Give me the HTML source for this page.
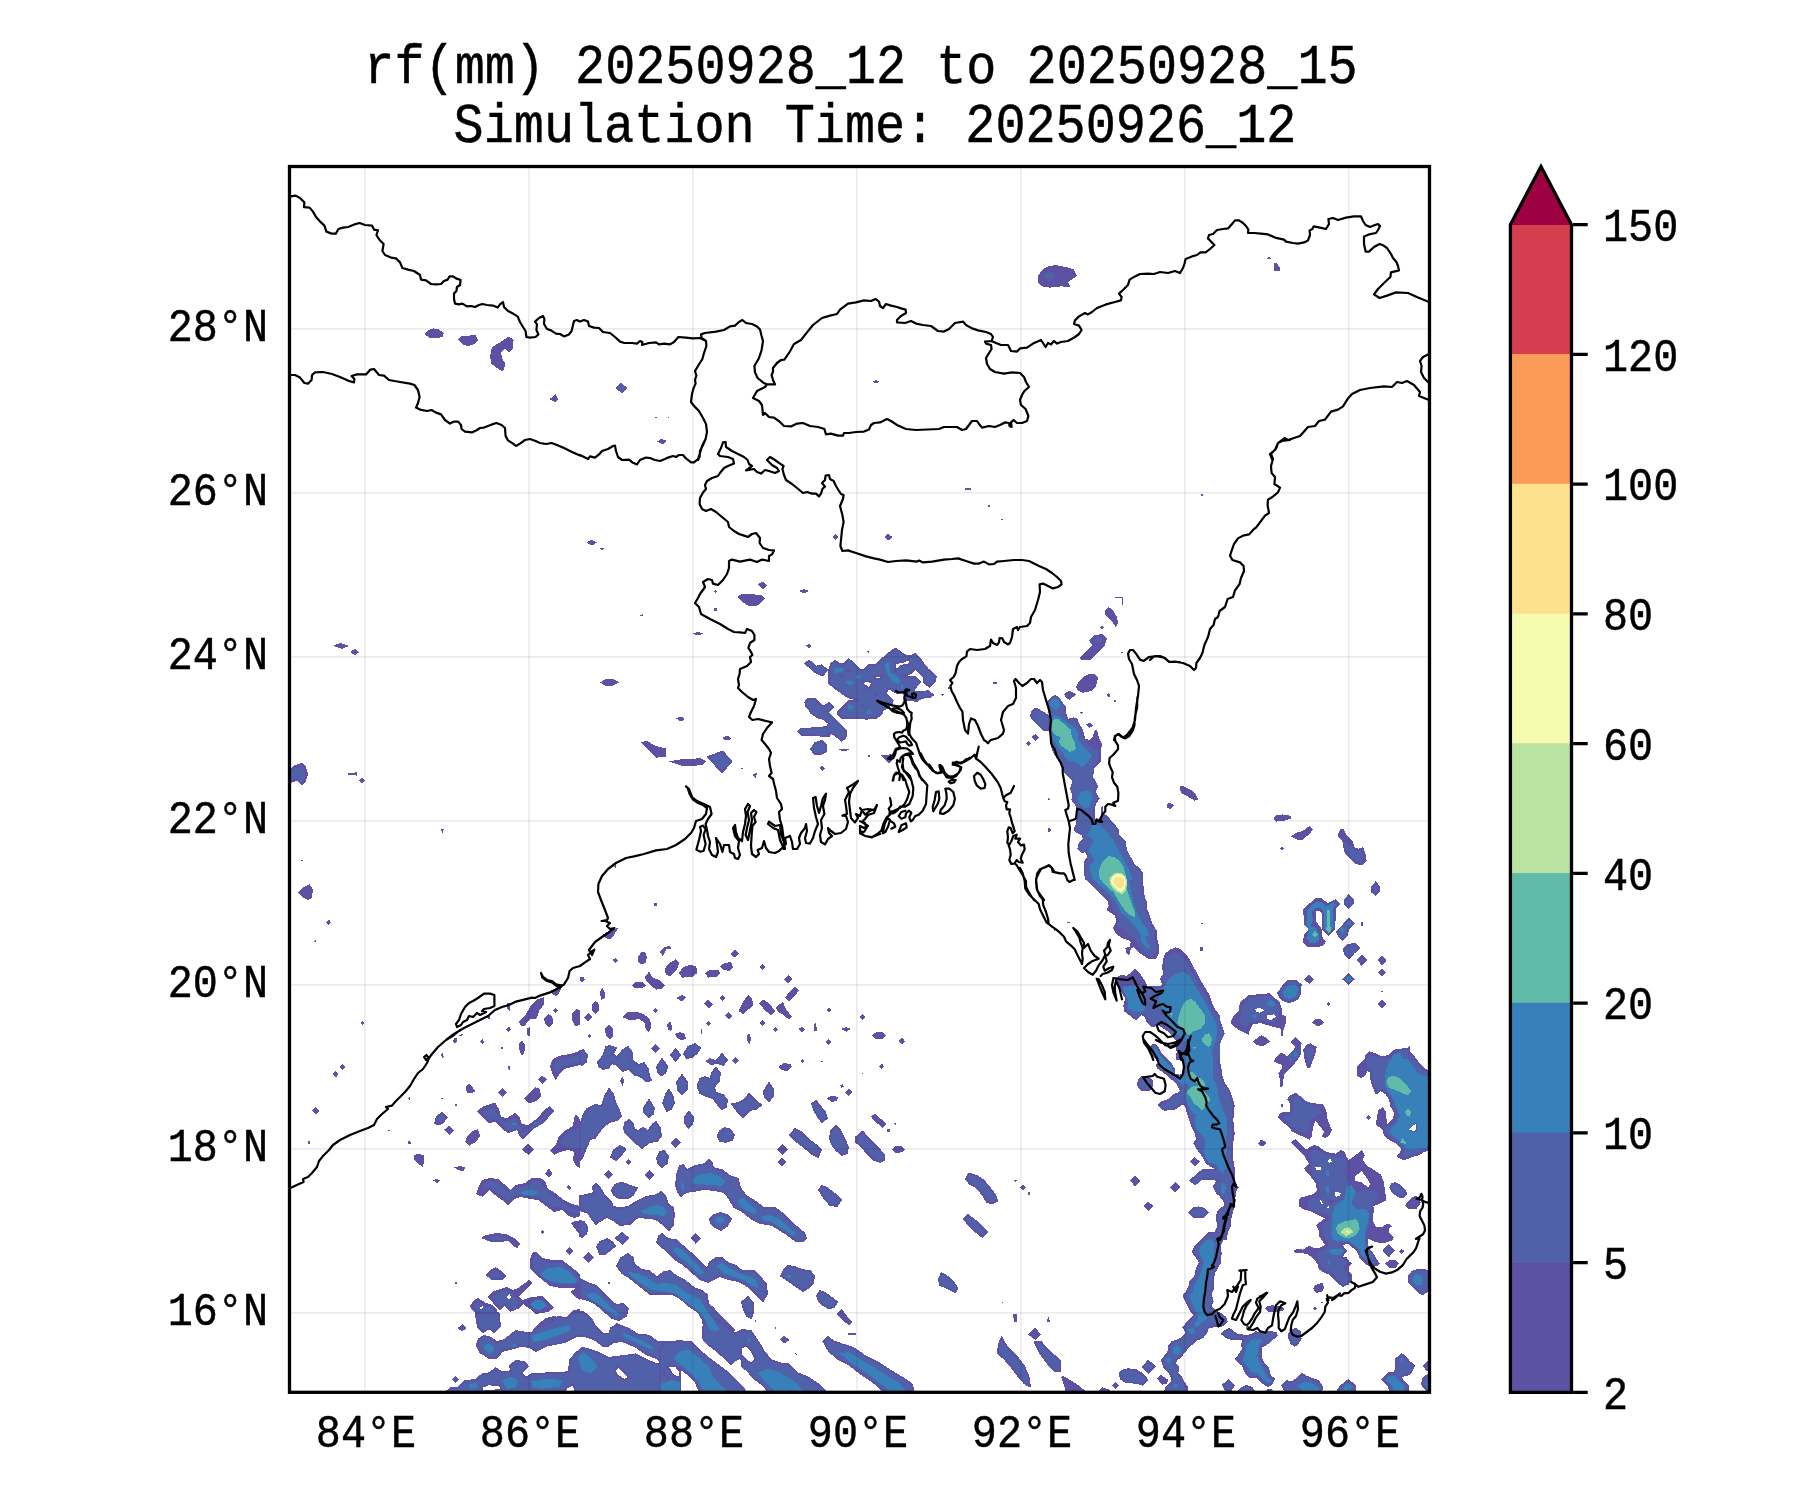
<!DOCTYPE html>
<html><head><meta charset="utf-8"><title>rf(mm) 20250928_12 to 20250928_15</title>
<style>
html,body{margin:0;padding:0;background:#fff;}
body{width:1800px;height:1500px;position:relative;overflow:hidden;font-family:"Liberation Mono",monospace;color:#000;}
svg{position:absolute;left:0;top:0;}
.t{position:absolute;white-space:pre;line-height:1;transform-origin:0 0;will-change:transform;-webkit-text-stroke:0.45px #000;}
.title{font-size:50.17px;width:1800px;text-align:center;left:-39.5px;transform:scaleY(1.1);transform-origin:50% 0;}
.lab{font-size:41.8px;transform:scaleY(1.1);}
.yl{width:120px;text-align:right;left:147.5px;}
.xl{width:140px;text-align:center;}
.cl{left:1602.5px;}
</style></head><body>

<svg width="1800" height="1500" viewBox="0 0 1800 1500">
<defs><clipPath id="ax"><rect x="289.5" y="166.5" width="1140.0" height="1225.8"/></clipPath></defs>
<g clip-path="url(#ax)">
<g shape-rendering="crispEdges">
<g fill="#5c51a3">
<path d="M424.4 334.0L428.0 330.0L433.6 328.4L439.0 329.6L443.6 333.0L443.0 337.0L436.0 338.4L429.0 337.6ZM458.4 339.6L462.0 335.6L468.0 336.0L475.0 334.4L478.4 340.0L475.0 344.0L468.0 346.0L462.4 344.4ZM492.0 347.0L499.0 343.0L505.0 339.0L509.0 336.4L513.6 340.0L513.0 348.0L509.0 352.4L505.0 349.0L501.0 352.0L502.0 358.0L505.6 364.0L503.0 371.6L497.0 368.0L491.6 364.0L490.0 356.0ZM549.6 399.0L555.6 394.4L558.4 399.0L555.0 402.4ZM615.0 388.0L621.0 383.0L628.0 388.0L622.0 393.0ZM657.0 441.6L661.0 439.0L667.0 441.0L662.4 444.4ZM873.0 381.6L876.0 380.0L879.0 381.6L876.0 383.6ZM655.2 417.0L656.8 417.0L656.8 417.8L655.2 417.8ZM667.8 417.0L669.0 417.0L669.0 417.8L667.8 417.8ZM1038.0 276.0L1042.0 270.0L1048.0 266.4L1056.0 265.0L1068.0 267.6L1074.0 269.6L1077.0 275.6L1072.0 279.6L1068.0 282.0L1070.4 287.0L1061.0 286.4L1050.0 287.6L1042.0 286.4L1038.4 282.4ZM1267.0 258.0L1269.0 256.0L1271.0 258.4L1268.0 259.6ZM1274.0 263.0L1277.0 263.0L1280.0 268.0L1280.0 270.6L1274.0 270.6ZM333.0 646.0L340.0 643.0L349.0 646.0L342.0 649.0ZM350.0 652.0L355.0 649.0L359.0 652.4L355.0 655.0ZM586.4 542.4L591.0 539.6L597.0 542.4L592.0 545.6ZM600.0 548.4L604.0 548.4L602.4 550.4ZM832.0 537.0L835.6 534.0L839.0 537.0L835.6 540.0ZM758.0 584.4L762.4 581.6L767.0 585.0L763.0 589.0ZM737.0 597.0L742.0 593.6L754.0 594.4L761.0 595.0L765.0 598.0L760.0 604.0L756.0 606.4L749.0 606.4L743.0 602.4ZM799.0 591.0L804.0 589.0L809.0 591.0L804.0 593.6ZM714.0 591.4L715.6 590.0L717.0 591.4L715.6 592.8ZM714.0 608.0L717.0 608.0L717.0 611.0L714.0 611.0ZM640.0 615.4L642.4 614.0L643.0 616.4ZM693.0 633.6L698.0 632.0L703.0 633.6L698.0 635.6ZM806.0 645.6L809.0 643.6L811.6 645.6L809.0 648.0ZM867.0 651.6L869.6 651.6L868.4 653.6ZM600.0 682.4L606.0 679.0L613.0 679.0L619.6 682.4L613.0 685.6L606.0 686.0ZM676.0 718.6L681.0 716.4L685.0 719.0L681.0 721.6ZM722.4 737.6L728.0 735.6L731.0 738.0L729.0 740.0L724.0 740.0ZM806.0 646.0L808.0 644.0L810.9 646.0L808.3 648.0ZM866.9 651.3L869.6 651.3L868.3 653.7ZM810.9 749.3L814.9 743.3L821.3 741.3L826.0 744.7L826.7 750.7L822.0 754.7L815.3 753.3ZM839.3 749.1L848.7 749.1L847.3 750.7L840.7 750.7ZM868.0 754.9L870.0 754.9L870.0 756.7L868.0 756.7ZM819.1 768.0L821.6 766.0L824.7 768.0L822.0 770.7ZM881.3 755.3L890.7 754.3L892.7 760.0L889.3 763.6ZM948.7 687.3L950.0 687.3L950.0 689.3L948.7 689.3ZM941.3 694.3L943.3 694.3L942.4 695.6ZM965.0 488.0L971.0 488.0L971.0 489.6L965.0 489.6ZM988.0 505.0L990.0 505.0L989.0 509.0ZM1001.0 519.0L1003.0 519.0L1003.0 520.0L1001.0 520.0ZM884.0 537.0L888.0 534.0L893.0 537.0L888.4 540.4ZM1115.0 597.0L1123.0 597.0L1123.0 605.0L1121.6 605.0L1121.6 598.4L1115.0 598.0ZM1105.0 610.0L1108.0 607.0L1112.0 609.0L1117.0 617.0L1118.0 623.0L1116.0 627.6L1113.0 623.0L1108.0 618.0L1105.0 614.0ZM1100.0 627.6L1102.0 625.6L1104.0 627.6L1102.0 629.6ZM1089.0 640.0L1095.0 635.0L1102.0 634.0L1107.0 638.0L1105.0 645.0L1099.0 652.0L1090.0 660.0L1082.0 660.0L1079.0 658.0L1085.0 652.0L1092.0 645.0ZM1076.4 685.0L1082.0 678.0L1088.0 674.4L1095.0 674.0L1098.0 678.0L1096.0 686.0L1091.0 691.0L1083.0 692.4L1078.0 690.0ZM1064.0 695.0L1069.0 691.0L1076.0 694.4L1070.0 699.6ZM1107.0 694.0L1109.0 693.0L1110.4 697.0L1108.0 696.4ZM1114.0 700.0L1116.0 700.0L1116.0 702.0L1114.0 702.0ZM1080.0 712.4L1083.0 712.0L1082.0 714.0ZM1086.0 725.0L1090.0 723.0L1093.0 726.0L1089.0 728.0ZM1121.0 652.0L1123.0 652.0L1123.0 653.0L1121.0 653.0ZM993.0 681.6L997.0 681.6L997.0 684.0L993.0 684.0ZM941.0 694.4L944.0 694.0L942.4 696.0ZM948.0 687.0L950.0 687.6L949.0 690.0ZM1201.2 494.0L1202.8 494.0L1202.8 495.6L1201.2 495.6ZM289.0 770.0L295.0 765.0L302.0 763.0L306.0 767.0L308.0 774.0L306.0 781.0L302.0 785.0L297.0 781.0L289.0 783.6ZM348.0 773.0L357.0 772.4L357.0 775.6L348.0 775.0ZM359.0 780.0L362.0 777.6L365.0 780.0L362.4 783.6ZM441.0 829.0L444.0 829.0L442.4 833.6ZM301.0 860.0L303.0 860.0L302.4 861.6ZM298.0 892.0L304.0 887.0L309.6 884.0L313.0 890.0L311.6 898.0L307.6 900.0L302.0 897.0ZM326.0 922.4L329.0 919.0L331.0 923.0L328.4 925.0ZM314.0 942.0L315.6 940.0L317.0 942.4ZM360.0 1023.0L362.4 1021.0L364.4 1023.0L362.0 1025.0ZM550.0 991.0L556.0 988.0L562.0 987.0L559.0 993.0L556.0 996.0L552.4 994.0ZM519.0 1022.0L526.0 1014.0L530.0 1007.0L536.0 1000.0L544.0 997.0L544.4 1004.0L539.0 1011.0L537.0 1018.4L530.0 1019.0L524.4 1026.0L521.0 1025.6ZM544.0 1018.0L548.0 1014.0L552.0 1016.0L553.6 1023.0L549.0 1028.0L545.0 1024.0ZM572.0 1014.0L576.0 1009.0L580.0 1010.0L580.0 1025.0L575.0 1026.0L572.0 1020.0ZM553.0 1010.4L555.6 1008.0L558.0 1010.4L555.6 1013.0ZM507.0 1003.6L510.0 1003.0L509.6 1011.0L507.6 1010.0ZM487.0 1016.0L490.0 1015.0L490.4 1018.4L488.0 1019.0ZM506.0 1029.0L509.0 1026.0L511.0 1029.6L508.4 1032.0ZM527.0 1028.0L530.0 1027.0L530.4 1036.0L527.6 1036.4ZM459.0 1035.0L463.0 1034.0L461.0 1037.0ZM453.6 1038.4L456.4 1037.6L457.0 1040.0L454.0 1040.0ZM641.0 742.0L647.0 741.0L656.0 746.0L665.6 748.4L666.0 757.0L656.0 757.6L650.0 752.0ZM669.0 761.6L678.0 759.6L692.0 759.0L700.0 758.0L706.4 761.0L702.0 765.0L692.0 766.0L681.0 765.6ZM741.0 768.0L743.0 768.0L742.0 769.2ZM752.4 774.0L757.0 773.0L755.6 778.4ZM839.0 749.0L849.0 749.0L848.0 750.4L840.0 750.4ZM819.0 768.0L822.0 766.0L825.0 768.0L822.0 771.0ZM868.0 755.0L870.0 755.0L870.0 757.0L868.0 757.0ZM614.0 866.0L616.4 865.0L616.0 868.4ZM654.0 903.0L657.0 903.0L657.0 906.0L654.0 906.0ZM602.4 935.0L610.0 930.0L618.0 928.0L614.0 935.0L610.0 939.6L605.0 938.0ZM660.0 952.0L664.0 947.0L670.0 946.0L671.0 948.4L666.0 949.6L663.0 956.4ZM638.0 957.0L641.0 952.4L645.0 952.0L647.0 957.0L645.6 963.0L641.0 964.4L638.4 962.0ZM612.0 960.0L615.6 958.0L618.4 960.4L615.6 963.0ZM730.0 954.0L735.0 950.0L739.0 954.0L735.0 957.6ZM664.4 970.0L668.0 964.0L676.0 959.0L679.0 963.0L677.0 970.0L670.0 976.0L666.4 975.0ZM679.0 973.0L683.0 967.0L690.0 965.0L696.0 966.0L697.6 973.0L692.0 977.0L682.0 977.6ZM705.0 973.0L710.0 969.6L718.0 969.6L720.0 973.0L716.0 977.0L708.0 977.6ZM720.0 966.0L725.0 963.0L731.0 962.0L733.0 967.0L729.0 971.0L723.0 969.6ZM759.0 967.0L762.0 964.0L765.0 967.0L762.0 970.0ZM784.0 979.0L788.4 975.0L793.0 979.0L788.4 983.6ZM580.0 977.0L584.0 977.0L585.0 980.0L582.0 982.0L580.0 981.0ZM645.0 977.0L649.0 971.6L653.0 978.0L659.0 980.0L665.0 985.0L662.0 989.0L656.0 989.6L650.0 985.0L646.0 981.0ZM632.0 985.0L636.0 982.0L643.0 982.4L646.4 985.6L642.0 988.4L635.0 988.4ZM600.0 992.0L602.4 988.0L605.0 992.4L604.4 999.0L601.0 999.6ZM676.0 998.0L682.0 995.0L686.0 997.0L682.4 1001.6ZM719.0 998.0L722.0 995.0L725.0 998.0L722.0 1001.0ZM704.0 1004.0L708.0 999.6L713.0 1004.4L709.0 1009.0ZM738.4 1011.0L743.0 1002.0L748.0 995.0L751.6 998.0L753.6 1005.0L749.0 1009.0L743.0 1014.0ZM759.0 1003.0L763.0 999.6L769.0 1003.0L775.0 1011.0L771.0 1015.0L765.0 1010.4ZM776.0 1007.0L783.0 1002.0L786.0 1009.0L792.0 1017.0L789.0 1019.6L782.0 1014.0L777.0 1011.0ZM785.0 998.0L790.0 991.0L795.0 986.0L799.0 990.4L794.0 997.0L789.0 1001.6ZM592.0 1004.0L595.0 1001.0L598.4 1003.0L599.0 1010.0L596.0 1014.0L592.4 1011.0ZM653.0 1010.4L655.6 1008.4L658.0 1011.0L655.6 1013.0ZM826.4 1010.4L829.0 1008.0L831.6 1010.4L829.0 1013.0ZM584.0 1017.0L588.0 1013.0L592.0 1017.0L588.4 1021.6ZM622.0 1017.0L627.0 1012.4L638.0 1012.0L644.0 1014.4L650.0 1019.0L651.6 1027.0L649.0 1032.4L645.6 1029.0L645.0 1023.0L639.0 1019.0L630.0 1020.4ZM725.0 1016.0L728.4 1012.0L732.0 1016.0L729.0 1020.0ZM859.0 1017.0L862.0 1014.0L865.6 1017.0L862.4 1020.0ZM759.0 1023.0L762.0 1020.0L765.0 1023.0L762.0 1026.0ZM706.0 1023.0L709.0 1021.0L711.0 1023.6L708.4 1025.6ZM667.0 1024.0L670.0 1021.0L672.4 1027.0L671.0 1031.0L668.0 1030.0ZM605.0 1029.0L609.0 1024.0L613.0 1029.0L613.0 1036.0L609.6 1039.6L606.0 1036.0ZM773.0 1029.6L775.6 1027.0L778.4 1029.6L775.6 1032.0ZM798.0 1029.0L802.0 1027.0L805.0 1029.6L801.6 1032.4ZM814.0 1024.0L816.0 1023.0L817.0 1031.0L814.4 1031.0ZM841.0 1029.0L846.0 1027.0L851.0 1029.0L846.4 1031.6ZM587.0 1036.0L589.0 1034.0L591.0 1036.0L589.0 1038.0ZM675.0 1034.0L680.0 1032.0L685.0 1034.0L686.0 1039.0L681.0 1040.0L677.0 1038.0ZM701.0 1029.0L702.4 1029.0L702.4 1034.0L701.0 1034.0ZM747.0 1035.0L749.0 1034.0L750.0 1040.0L747.6 1040.0ZM872.0 1035.0L876.0 1032.4L880.0 1033.0L880.0 1039.0L875.0 1039.0ZM875.0 1003.6L877.0 1003.6L876.0 1005.0ZM1026.0 743.3L1028.7 741.1L1031.3 743.3L1028.7 746.0ZM1032.0 736.7L1035.3 734.0L1038.7 737.3L1035.3 740.7ZM1047.3 799.3L1048.7 798.0L1050.0 799.3L1048.7 800.7ZM1047.3 830.0L1049.1 828.0L1050.9 830.0L1049.1 832.0ZM868.0 754.9L870.0 754.9L870.0 757.1L868.0 757.1ZM914.0 700.0L917.3 700.0L915.7 701.6ZM1047.3 701.3L1051.3 696.7L1055.3 694.9L1060.0 698.0L1062.7 702.7L1066.0 706.7L1066.0 712.0L1068.0 718.7L1074.0 717.3L1077.3 718.7L1079.3 724.0L1082.7 729.3L1085.3 738.7L1089.3 740.0L1092.7 737.3L1094.7 730.0L1097.3 730.7L1098.7 737.3L1102.0 744.0L1100.7 752.0L1100.7 761.3L1097.3 765.3L1094.0 768.0L1093.3 777.3L1096.0 781.3L1098.0 786.7L1096.0 790.7L1096.7 794.0L1099.7 798.7L1096.0 804.0L1094.7 808.0L1094.9 818.7L1101.3 820.0L1100.7 813.3L1101.3 806.7L1102.7 806.0L1103.3 813.3L1106.7 815.3L1112.0 821.3L1118.7 829.3L1119.3 834.7L1126.0 842.0L1126.7 849.3L1129.3 854.7L1134.7 864.0L1140.7 869.3L1143.3 873.3L1142.0 880.0L1085.3 880.0L1084.0 873.3L1084.0 861.3L1087.3 857.3L1085.3 852.0L1082.0 853.3L1077.3 849.3L1078.7 843.3L1082.7 839.3L1082.0 835.3L1077.3 833.3L1073.3 830.0L1076.0 824.0L1076.7 818.7L1077.6 812.0L1075.3 805.3L1071.3 800.0L1072.0 796.0L1071.3 792.0L1070.0 788.0L1071.3 785.3L1072.0 780.0L1067.3 776.0L1063.3 772.0L1061.3 765.3L1058.0 760.0L1053.3 752.7L1050.9 746.7L1050.4 736.0L1048.7 728.0L1048.7 720.0L1050.0 712.0L1048.7 706.7ZM1030.0 716.0L1031.3 711.3L1034.7 707.3L1037.3 708.0L1042.7 711.3L1049.3 715.3L1048.7 730.7L1043.3 730.7L1037.3 725.3L1032.0 720.0ZM1076.0 686.7L1079.3 682.0L1084.0 680.0L1097.3 680.0L1094.7 685.3L1092.7 689.3L1088.0 692.0L1082.7 692.7L1078.0 690.7ZM1064.0 694.0L1068.7 690.7L1072.7 692.0L1075.3 694.0L1070.0 700.0L1066.0 698.0ZM1106.7 694.7L1108.7 693.1L1110.0 695.3L1108.7 697.1ZM1114.0 700.0L1115.7 700.0L1115.7 702.0L1114.0 702.0ZM1080.0 712.7L1082.7 712.0L1081.6 714.0ZM1086.0 724.7L1089.3 722.9L1092.7 725.3L1089.3 727.7ZM1032.0 737.3L1035.3 734.0L1038.9 737.3L1035.7 741.1ZM1026.0 743.3L1028.3 741.1L1030.9 743.7L1028.7 746.0ZM1047.3 798.7L1049.3 797.6L1048.7 800.7ZM1047.1 830.0L1049.1 827.7L1051.3 830.0L1049.1 832.3ZM1180.0 786.0L1183.3 786.0L1192.0 790.7L1196.0 794.7L1198.0 799.3L1194.7 800.7L1186.7 796.0L1180.7 792.7ZM1166.9 804.0L1170.0 802.9L1174.0 805.3L1170.0 809.1L1167.3 808.0ZM1143.3 877.3L1142.9 882.7L1144.0 889.3L1144.7 897.3L1147.3 902.7L1147.3 909.3L1150.0 916.0L1152.0 922.7L1156.7 930.7L1156.7 937.3L1158.9 945.3L1158.7 953.3L1156.0 959.3L1148.7 959.3L1140.0 953.3L1133.3 947.3L1130.7 948.7L1129.3 955.3L1126.7 954.0L1125.3 948.0L1129.6 946.7L1130.7 942.7L1128.0 940.0L1121.3 938.0L1115.3 932.7L1112.7 928.0L1116.0 922.7L1115.3 916.0L1111.3 913.3L1106.4 910.0L1108.7 906.0L1108.0 901.3L1101.3 894.7L1094.7 888.7L1089.3 883.3L1084.7 877.3ZM1162.0 968.0L1163.3 958.7L1165.3 953.3L1170.7 949.3L1175.3 947.3L1180.0 948.7L1185.3 953.3L1190.0 960.0L1193.3 966.7L1197.3 973.3L1201.3 981.3L1205.3 988.0L1209.3 994.7L1212.7 1004.0L1216.0 1010.7L1220.0 1016.0L1220.0 1060.0L1176.0 1060.0L1176.7 1052.0L1176.0 1046.7L1177.3 1042.7L1173.3 1037.3L1166.7 1030.7L1158.7 1025.3L1152.0 1027.3L1146.0 1022.0L1145.3 1017.3L1141.3 1015.3L1136.0 1020.7L1129.3 1015.3L1124.0 1011.3L1123.3 1005.3L1125.3 998.7L1121.3 992.0L1119.3 986.0L1114.0 978.7L1116.0 977.3L1121.3 974.7L1126.7 976.0L1130.7 972.7L1135.3 968.7L1140.0 973.3L1142.7 977.3L1146.0 982.7L1148.0 986.7L1152.0 986.0L1161.3 986.0L1162.0 984.0L1160.0 978.7L1163.3 973.3ZM1200.0 947.3L1202.7 947.3L1202.7 950.7L1200.0 950.7ZM1201.1 922.9L1202.9 922.9L1202.9 924.0L1201.1 924.0ZM1067.3 922.4L1070.0 921.6L1069.1 924.0ZM1053.3 926.7L1056.0 928.7L1054.9 932.0ZM1273.3 817.9L1276.0 815.2L1282.4 814.4L1290.4 815.7L1290.9 818.4L1284.8 820.5L1276.0 821.6ZM1291.2 836.5L1296.0 832.8L1302.4 831.2L1309.6 825.9L1313.3 829.6L1308.8 834.4L1302.4 840.0L1297.6 840.0ZM1280.0 848.3L1281.9 846.4L1284.0 848.3L1281.9 850.6ZM1337.3 835.2L1340.8 828.5L1344.0 829.6L1346.4 835.2L1352.8 841.6L1354.4 847.2L1358.4 848.8L1363.2 847.2L1365.6 854.4L1366.7 860.8L1362.4 865.6L1356.0 864.0L1350.4 859.2L1344.8 853.6L1343.2 847.2L1342.4 840.8ZM1370.9 886.4L1375.7 881.3L1380.0 886.4L1379.5 892.0L1375.7 896.0L1371.5 892.5ZM1344.0 899.2L1348.8 894.1L1353.9 899.2L1353.6 904.0L1348.8 908.8L1344.3 904.8ZM1336.0 932.0L1340.8 926.4L1348.8 917.6L1354.9 923.2L1348.8 929.6L1348.0 936.0L1342.4 940.8L1338.4 936.8ZM1360.8 922.4L1362.9 921.9L1362.9 925.6L1360.8 925.6ZM1343.2 948.8L1348.0 943.7L1355.2 943.2L1360.8 948.0L1354.4 953.6L1348.8 959.7L1343.7 954.4ZM1356.5 960.0L1361.9 954.9L1367.7 960.3L1361.9 966.1ZM1377.3 960.0L1382.1 956.0L1386.9 960.0L1382.4 965.6ZM1377.9 972.8L1382.1 968.3L1385.9 972.8L1382.1 976.8ZM1304.0 979.2L1308.8 974.7L1313.9 979.2L1309.1 984.0ZM1342.1 979.2L1348.8 973.1L1354.9 979.2L1348.8 984.8ZM1380.8 991.2L1383.2 990.4L1382.4 992.8ZM1200.0 947.2L1202.9 947.2L1202.9 951.2L1200.0 950.4ZM1200.8 922.9L1202.9 922.9L1202.9 923.8L1200.8 923.8ZM1277.1 992.8L1282.4 985.6L1287.2 980.5L1296.0 980.0L1301.6 984.0L1301.1 994.4L1297.6 1000.0L1289.6 1003.2L1283.2 1001.3L1279.2 997.6ZM1253.1 1041.6L1257.6 1037.6L1261.6 1035.2L1266.4 1037.6L1270.1 1041.6L1265.6 1044.8L1261.6 1046.4L1256.8 1044.8ZM1273.3 1061.1L1276.8 1056.8L1281.6 1052.5L1287.2 1056.0L1292.8 1051.2L1295.2 1047.2L1290.4 1042.4L1293.6 1038.4L1296.0 1037.1L1301.6 1043.2L1300.8 1054.4L1297.6 1060.0L1292.8 1065.6L1288.0 1070.4L1284.0 1074.4L1283.2 1081.6L1282.4 1087.2L1280.0 1086.4L1279.7 1078.4L1278.4 1073.6L1281.6 1068.8L1282.4 1064.8L1278.4 1064.0ZM1303.2 1049.6L1306.4 1044.8L1310.4 1043.2L1316.8 1047.2L1315.2 1054.4L1312.0 1062.4L1310.1 1068.0L1307.2 1068.5L1304.8 1060.8L1304.0 1054.4ZM1326.4 1004.0L1328.5 1001.9L1330.9 1004.0L1328.5 1006.1ZM1312.3 1022.4L1315.2 1019.5L1320.8 1019.2L1324.0 1022.1L1321.6 1025.3L1316.0 1025.9ZM1377.3 1004.0L1382.1 999.7L1386.9 1004.0L1382.1 1008.8ZM1366.4 1117.6L1368.8 1115.2L1371.2 1117.6L1368.8 1120.0ZM1277.6 1117.6L1280.0 1112.8L1286.4 1112.0L1290.4 1112.0L1290.4 1104.8L1287.2 1099.2L1289.6 1096.0L1295.2 1092.5L1300.0 1096.0L1305.6 1100.8L1312.0 1103.2L1323.2 1104.0L1326.4 1111.2L1327.2 1118.4L1330.4 1126.4L1332.0 1130.4L1328.8 1136.0L1324.8 1137.9L1321.6 1136.8L1324.0 1132.0L1321.6 1128.0L1315.2 1120.8L1312.8 1128.8L1312.0 1136.0L1309.6 1140.0L1304.0 1136.8L1299.2 1135.2L1292.8 1132.0L1286.4 1124.8L1281.6 1121.6ZM1257.9 1143.2L1261.6 1140.0L1265.9 1143.2L1262.1 1146.9ZM1281.3 1104.0L1282.6 1104.0L1282.6 1107.2L1281.3 1107.2ZM1390.4 1187.2L1394.4 1183.2L1400.0 1185.6L1404.8 1190.4L1406.4 1195.2L1402.4 1197.6L1395.2 1195.2L1391.2 1192.0ZM1217.3 1053.3L1219.3 1060.0L1221.3 1066.7L1222.0 1074.7L1224.7 1082.7L1230.0 1090.7L1232.0 1096.0L1234.7 1105.3L1233.3 1120.0L1234.7 1133.3L1232.7 1146.7L1233.3 1160.0L1234.7 1168.0L1234.7 1181.3L1238.7 1187.3L1236.0 1191.3L1235.3 1200.0L1233.3 1210.7L1231.3 1218.7L1230.7 1226.7L1228.0 1232.0L1226.7 1240.0L1201.3 1240.0L1204.0 1236.0L1208.0 1233.3L1214.7 1232.0L1217.3 1226.7L1216.0 1218.7L1216.7 1212.0L1221.3 1207.3L1224.7 1205.3L1223.3 1201.3L1219.3 1196.0L1216.0 1193.3L1212.7 1186.7L1216.0 1181.3L1214.7 1180.0L1201.3 1180.0L1198.7 1183.3L1194.7 1185.3L1189.3 1180.7L1193.3 1176.7L1198.7 1172.0L1202.0 1169.3L1214.7 1168.7L1209.3 1166.0L1205.3 1162.7L1202.7 1157.3L1198.7 1152.0L1196.0 1148.0L1193.3 1143.3L1196.0 1138.7L1194.7 1133.3L1192.0 1128.0L1189.3 1120.0L1186.7 1113.3L1185.3 1106.7L1182.7 1104.7L1177.3 1108.0L1174.7 1110.0L1164.0 1110.7L1160.0 1108.0L1157.3 1105.3L1160.7 1101.3L1168.0 1099.3L1172.7 1094.7L1177.3 1092.7L1180.0 1090.7L1177.3 1085.3L1172.0 1080.0L1162.7 1072.0L1157.3 1068.7L1155.3 1064.7L1158.7 1064.0L1156.0 1060.0L1150.7 1053.3L1148.0 1048.7L1152.7 1044.0L1156.0 1044.0L1159.3 1048.0L1161.3 1053.3L1166.7 1058.7L1172.0 1064.0L1174.7 1068.7L1174.7 1073.3L1180.0 1074.7L1182.7 1073.3L1184.0 1066.7L1181.3 1060.0L1178.0 1056.0L1176.0 1053.3ZM1137.1 1084.0L1138.0 1079.3L1141.3 1076.3L1146.0 1076.7L1150.7 1078.0L1153.3 1081.3L1152.7 1086.7L1150.0 1090.7L1141.3 1090.7L1138.0 1087.3ZM1130.0 1180.7L1134.9 1176.0L1140.0 1181.1L1134.9 1186.0ZM1170.0 1187.3L1175.3 1182.0L1180.7 1187.3L1175.3 1192.7ZM1144.0 1206.4L1148.7 1202.0L1153.6 1206.4L1148.7 1210.9ZM1190.0 1161.6L1194.9 1157.1L1199.7 1161.6L1194.9 1166.7ZM1189.1 1212.7L1193.3 1208.3L1198.7 1206.7L1204.0 1208.7L1207.3 1212.7L1202.7 1217.3L1194.0 1217.6ZM1258.0 1143.3L1262.0 1139.7L1266.0 1143.3L1262.0 1146.9ZM1217.6 1012.0L1224.8 1033.6L1218.7 1046.4L1220.3 1061.6L1216.0 1061.6L1216.0 1012.0ZM333.0 1074.0L335.0 1071.0L338.0 1073.6L336.0 1077.6ZM339.0 1067.0L342.0 1064.0L345.0 1067.0L342.0 1070.0ZM312.0 1111.0L315.6 1107.0L319.6 1111.0L316.0 1115.0ZM308.0 1141.0L310.0 1141.0L310.0 1144.0L308.0 1144.0ZM452.4 1041.0L455.0 1038.4L457.0 1041.0L455.0 1043.6ZM459.0 1035.0L462.4 1034.4L462.4 1036.4L459.6 1036.4ZM441.0 1054.0L443.0 1053.0L443.6 1057.0L442.0 1058.0ZM480.0 1041.0L482.4 1039.0L484.0 1042.0L482.0 1044.0ZM519.0 1044.0L522.0 1040.0L525.0 1045.0L524.4 1053.0L522.0 1055.6L519.6 1051.0ZM527.6 1030.0L530.4 1030.0L530.0 1036.0L528.0 1035.6ZM501.0 1047.0L503.0 1047.0L503.0 1049.0L501.0 1049.0ZM507.6 1066.4L510.0 1066.0L509.6 1069.6L508.0 1069.0ZM538.0 1079.0L542.4 1075.6L547.0 1079.6L542.4 1084.0ZM466.0 1086.0L469.0 1083.0L473.0 1088.0L475.6 1092.0L468.0 1093.6L466.0 1090.0ZM498.0 1092.0L502.0 1088.0L507.0 1092.4L502.4 1097.0ZM524.0 1099.0L529.0 1093.0L535.0 1087.0L540.0 1089.0L541.0 1096.0L537.0 1101.0L529.0 1103.6ZM550.0 1066.0L553.0 1059.0L560.0 1055.6L572.0 1053.6L580.0 1051.0L580.0 1065.0L572.0 1067.0L564.0 1069.0L559.0 1075.0L555.6 1080.0L553.0 1075.0ZM407.0 1098.0L410.0 1097.0L409.6 1099.6ZM441.0 1098.0L443.6 1097.6L442.4 1099.6ZM455.0 1104.0L457.0 1104.0L457.0 1106.0L455.0 1106.0ZM388.0 1129.6L389.6 1129.6L389.6 1130.8L388.0 1130.8ZM408.0 1141.0L410.4 1141.0L411.0 1144.0L408.4 1143.6ZM434.0 1124.0L436.0 1116.0L442.0 1112.0L448.0 1117.0L443.0 1124.0L438.0 1125.0ZM444.0 1129.6L449.0 1126.0L454.0 1130.4L449.0 1135.0ZM465.0 1142.0L468.0 1135.0L473.0 1131.0L478.0 1129.0L480.0 1136.0L477.0 1141.0L469.0 1146.0ZM477.0 1111.0L484.0 1106.0L495.0 1102.4L499.0 1109.0L501.0 1117.0L507.0 1118.0L515.0 1113.0L520.0 1118.0L522.0 1124.0L528.0 1125.0L538.0 1118.0L544.0 1110.0L550.0 1106.0L554.4 1111.0L548.0 1118.0L544.0 1123.0L535.0 1128.0L530.0 1132.0L523.0 1140.0L519.0 1135.0L517.0 1130.0L508.0 1133.0L502.0 1129.0L496.0 1122.0L488.0 1123.0L482.0 1117.0ZM522.0 1149.6L528.0 1144.0L534.4 1149.6L528.4 1155.0ZM550.0 1150.0L556.0 1144.0L559.0 1136.0L566.0 1130.0L573.0 1126.0L574.0 1118.0L576.0 1114.0L579.0 1118.0L580.0 1120.0L580.0 1168.0L576.0 1166.0L573.0 1160.0L574.0 1152.0L568.0 1150.0L560.0 1152.0L554.0 1155.0ZM413.6 1155.0L418.0 1154.0L423.6 1155.0L424.0 1162.0L423.0 1167.0L418.0 1163.6L414.4 1159.6ZM454.0 1167.6L460.0 1166.0L465.0 1167.6L463.0 1171.6L458.0 1170.0ZM433.0 1180.4L436.4 1179.0L440.0 1180.4L437.0 1183.0ZM545.0 1174.0L549.0 1168.0L552.4 1174.0L549.0 1178.0ZM566.0 1187.0L569.0 1185.0L571.6 1188.0L569.0 1190.0ZM476.0 1194.0L479.0 1186.0L482.0 1180.0L490.0 1178.0L498.0 1179.0L504.0 1184.0L510.0 1190.0L516.0 1185.0L525.0 1183.0L532.0 1178.0L540.0 1177.6L546.0 1182.0L547.0 1188.0L555.0 1193.0L564.0 1200.0L572.0 1204.0L580.0 1206.0L580.0 1216.0L574.0 1218.0L567.0 1215.0L562.0 1210.0L554.0 1212.0L546.0 1206.0L538.0 1200.0L530.0 1199.0L520.0 1197.0L513.0 1200.0L508.0 1205.0L502.0 1200.0L495.0 1195.0L489.0 1190.0L483.0 1197.0ZM571.0 1223.0L575.0 1221.0L580.0 1221.0L580.0 1235.0L576.0 1230.0ZM540.0 1232.0L542.4 1230.0L545.0 1232.0L542.4 1234.4ZM481.0 1238.0L486.0 1235.0L496.0 1233.0L506.0 1234.0L514.0 1238.0L520.0 1244.0L517.0 1248.4L512.0 1245.0L508.0 1241.0L499.0 1242.0L490.0 1241.6ZM565.0 1251.0L569.0 1247.0L573.0 1251.0L569.0 1255.0ZM530.0 1260.0L532.0 1253.0L536.0 1251.6L542.0 1258.0L552.0 1260.0L562.0 1260.0L570.0 1266.0L580.0 1274.0L580.0 1300.0L574.0 1296.0L570.0 1292.0L576.0 1288.0L560.0 1288.0L550.0 1286.0L540.0 1278.0L530.0 1269.0ZM485.6 1275.0L490.0 1270.0L495.6 1267.0L500.0 1270.0L506.0 1276.0L502.0 1280.0L492.0 1280.4ZM455.0 1282.0L457.0 1282.0L457.0 1284.0L455.0 1284.0ZM458.0 1328.0L462.0 1324.0L466.0 1328.0L464.0 1330.0L459.6 1330.0ZM532.0 1330.0L538.0 1324.0L546.0 1318.0L554.0 1316.0L564.0 1319.0L573.0 1310.0L580.0 1309.0L580.0 1330.0ZM651.0 1048.4L655.6 1044.0L660.0 1048.4L655.6 1053.0ZM732.0 1061.0L735.6 1057.0L739.0 1061.0L735.6 1064.0ZM620.0 1081.0L622.4 1077.0L624.4 1081.0L622.4 1086.0ZM778.0 1067.0L784.0 1063.0L791.0 1064.4L792.0 1067.0L787.0 1071.0L781.0 1070.0ZM800.0 1061.0L802.0 1059.0L804.0 1061.0L802.0 1063.0ZM821.0 1061.0L823.0 1061.0L823.0 1062.4L821.0 1062.4ZM825.6 1042.0L828.4 1039.0L831.2 1042.0L828.4 1045.0ZM747.0 1036.0L749.6 1034.4L751.0 1039.0L749.6 1043.6L747.6 1042.0ZM670.0 1143.0L675.6 1137.6L681.0 1143.0L675.6 1148.4ZM826.4 1098.0L832.0 1095.6L838.0 1097.0L837.0 1100.4L832.0 1102.0ZM845.0 1092.4L849.0 1089.0L852.4 1092.4L849.0 1096.0ZM840.0 1085.6L842.4 1084.0L844.0 1086.4L841.6 1088.0ZM871.0 1116.0L875.0 1114.0L880.0 1118.0L880.0 1126.0ZM777.0 1149.6L782.0 1144.0L787.6 1149.6L782.0 1155.0ZM777.6 1162.0L782.0 1158.0L786.4 1162.0L782.0 1166.4ZM625.0 1162.0L628.4 1159.0L632.0 1162.0L628.4 1165.0ZM604.0 1174.4L608.4 1170.0L613.0 1174.4L608.4 1179.0ZM644.0 1175.0L649.0 1170.0L654.0 1175.0L649.0 1180.0ZM690.4 1238.0L695.6 1233.0L701.0 1238.0L695.6 1243.6ZM583.0 1257.6L588.4 1252.0L594.4 1257.6L589.0 1263.0ZM836.0 1314.0L842.0 1309.0L847.0 1316.0L852.0 1322.0L849.0 1325.0L842.0 1320.0ZM608.0 1282.0L609.6 1282.0L609.6 1284.0L608.0 1284.0ZM754.0 1321.0L756.0 1320.0L756.4 1322.4ZM872.0 1035.6L876.0 1032.4L883.0 1032.4L886.0 1035.6L883.0 1039.0L876.0 1039.0ZM899.0 1041.0L902.0 1037.0L905.0 1041.6L902.0 1045.0ZM879.0 1066.4L882.0 1063.0L884.0 1067.0L881.6 1069.0ZM861.0 1073.0L863.6 1073.0L862.4 1074.4ZM871.0 1118.0L875.6 1114.0L881.0 1119.0L886.0 1124.0L883.0 1128.0L878.0 1124.0ZM887.0 1129.6L890.0 1129.0L890.4 1131.6L887.6 1132.0ZM894.0 1123.6L896.0 1123.0L895.6 1125.0ZM892.0 1149.6L895.0 1146.4L902.0 1146.0L905.0 1149.6L902.0 1152.4L895.0 1152.8ZM1014.0 1180.4L1017.0 1180.0L1016.0 1183.0ZM1019.6 1187.6L1023.0 1185.0L1026.4 1187.6L1023.0 1190.0ZM1028.0 1192.4L1030.0 1192.4L1030.0 1195.0L1028.0 1195.0ZM1130.0 1181.0L1135.0 1176.0L1140.0 1181.0L1135.0 1186.0ZM1143.6 1206.4L1148.4 1201.6L1153.6 1206.4L1148.4 1211.0ZM1013.6 1314.0L1016.4 1314.0L1017.0 1322.4L1014.0 1322.4ZM1047.0 1319.0L1049.0 1317.0L1050.0 1322.4L1047.6 1322.0ZM1033.0 1329.0L1035.0 1328.0L1037.0 1330.0ZM982.0 1283.0L983.2 1283.0L983.2 1284.0ZM1001.0 1302.0L1003.0 1301.6L1002.4 1303.0ZM458.2 1327.8L462.2 1324.0L466.2 1327.8L462.2 1331.6ZM452.2 1379.6L455.6 1376.0L458.9 1379.6L455.6 1382.7ZM780.0 1340.0L783.3 1335.6L790.0 1340.0L784.4 1343.3ZM754.4 1321.1L756.0 1320.0L756.7 1322.2ZM774.4 1327.1L775.6 1327.1L775.6 1328.9ZM794.4 1353.3L796.0 1352.2L796.7 1355.1ZM848.4 1333.3L855.6 1333.3L855.6 1335.1L848.4 1335.1ZM1013.3 1314.4L1016.7 1313.8L1016.7 1322.2L1013.8 1322.2ZM1047.8 1317.8L1049.3 1316.7L1049.3 1322.2L1047.8 1321.8ZM1001.1 1301.8L1003.3 1301.8L1003.3 1302.7ZM1027.8 1334.4L1035.1 1327.8L1041.1 1334.4L1035.6 1340.0ZM1144.0 1206.4L1148.7 1202.0L1153.3 1206.4L1148.7 1210.9ZM1157.3 1378.7L1161.3 1374.7L1165.3 1378.0L1168.7 1380.0L1166.7 1384.0L1162.0 1384.7ZM1265.3 1308.7L1267.3 1306.0L1272.0 1305.3L1277.3 1306.0L1282.7 1306.7L1284.7 1309.3L1281.3 1311.3L1274.7 1312.0L1268.0 1311.7ZM1244.7 1328.0L1248.0 1326.0L1251.3 1328.0L1248.7 1330.0ZM1312.7 1288.7L1316.0 1284.7L1322.0 1282.7L1324.0 1286.7L1322.7 1291.3L1317.3 1292.7ZM1313.3 1308.7L1315.3 1306.7L1317.3 1308.7L1315.3 1310.7ZM1321.3 1302.0L1322.9 1302.0L1322.9 1302.9L1321.3 1302.9ZM1264.7 1392.0L1268.0 1388.7L1271.3 1389.3L1274.7 1392.0ZM1260.0 1140.4L1263.0 1140.4L1265.8 1142.2L1262.4 1145.8L1260.0 1146.4ZM1405.2 1205.2L1408.8 1200.4L1414.8 1195.6L1419.6 1198.0L1420.8 1202.8L1416.0 1209.4L1408.8 1209.4ZM1399.2 1251.4L1401.8 1249.0L1404.6 1251.4L1401.8 1253.8ZM1385.4 1263.4L1389.0 1260.4L1395.6 1260.2L1399.2 1263.4L1395.6 1267.6L1389.0 1267.8ZM1312.8 1288.6L1316.4 1285.0L1322.4 1282.6L1324.2 1287.4L1322.4 1291.6L1316.4 1292.8ZM1061.1 1376.7L1063.3 1376.1L1072.2 1381.1L1078.9 1385.6L1085.6 1391.1L1065.6 1391.1L1063.3 1383.3ZM1098.3 1391.1L1102.2 1387.2L1107.8 1388.9L1111.1 1391.1ZM1112.2 1385.6L1115.6 1382.2L1118.9 1385.6L1115.6 1389.4Z"/>
<path fill-rule="evenodd" d="M1303.2 909.6L1308.8 904.0L1315.2 898.4L1321.6 898.4L1328.0 903.2L1335.2 899.2L1340.8 904.0L1336.0 908.0L1335.2 929.6L1328.8 936.0L1322.4 929.6L1321.6 934.4L1323.2 939.2L1326.1 941.6L1323.2 945.6L1318.4 946.9L1307.2 946.9L1303.2 942.4L1303.7 935.2L1308.8 929.6L1304.0 924.8ZM1315.5 911.2L1319.2 910.4L1321.9 913.6L1322.4 929.6L1318.4 924.8L1315.5 920.0Z"/>
<path fill-rule="evenodd" d="M1230.4 1023.2L1232.8 1016.8L1238.4 1011.2L1240.0 1002.4L1248.0 995.5L1260.8 993.9L1269.6 993.3L1275.2 998.4L1279.2 1001.6L1281.6 1008.0L1281.6 1014.4L1285.6 1016.0L1285.6 1024.0L1283.2 1030.4L1282.4 1036.8L1280.8 1036.0L1280.8 1028.8L1272.0 1026.4L1260.8 1023.2L1252.8 1024.0L1249.6 1030.4L1248.8 1035.2L1240.0 1030.4L1234.4 1027.2ZM1255.2 1008.8L1260.8 1008.0L1264.0 1010.4L1260.0 1012.8L1256.0 1011.5ZM1267.2 1015.2L1273.6 1014.4L1276.0 1016.8L1270.4 1020.5L1267.2 1018.4Z"/>
<path fill-rule="evenodd" d="M1356.8 1072.0L1357.6 1065.6L1361.6 1061.6L1364.8 1059.2L1365.6 1054.4L1369.6 1051.2L1376.0 1053.6L1380.8 1056.0L1388.8 1055.2L1394.4 1049.6L1408.0 1047.7L1409.6 1046.4L1410.4 1052.0L1414.4 1056.0L1418.4 1061.6L1423.2 1067.2L1428.0 1070.4L1430.4 1070.4L1430.4 1150.4L1424.0 1152.0L1419.2 1155.2L1412.8 1156.8L1404.8 1160.0L1400.8 1159.2L1396.0 1156.0L1400.0 1152.0L1401.6 1148.8L1396.8 1144.0L1390.4 1140.8L1384.0 1136.0L1382.4 1129.6L1376.0 1124.8L1376.8 1116.8L1378.4 1110.4L1382.4 1106.9L1385.6 1111.2L1386.4 1118.4L1387.2 1124.8L1392.0 1120.0L1394.4 1113.6L1390.4 1106.4L1388.8 1099.2L1385.6 1094.4L1380.8 1091.2L1376.0 1094.7L1372.8 1088.0L1370.4 1080.0L1369.6 1072.0L1367.2 1071.2L1364.8 1076.0L1360.8 1078.4L1357.6 1076.0ZM1408.8 1129.6L1416.0 1123.2L1416.3 1129.6L1413.6 1131.2Z"/>
<path fill-rule="evenodd" d="M1290.4 1142.4L1295.2 1139.2L1300.8 1144.8L1305.6 1149.6L1314.4 1144.8L1318.4 1146.4L1326.4 1152.0L1336.0 1153.6L1340.8 1149.6L1344.8 1152.0L1346.4 1156.8L1348.8 1160.0L1357.6 1153.6L1361.6 1149.6L1364.8 1155.2L1362.4 1160.0L1368.0 1166.4L1376.0 1171.2L1380.8 1174.4L1384.0 1182.4L1384.8 1188.8L1384.0 1200.0L1299.2 1200.0L1304.0 1196.8L1312.0 1196.0L1316.8 1190.4L1316.0 1184.0L1310.4 1176.0L1304.0 1168.8L1308.8 1163.2L1304.8 1156.8L1300.0 1151.2L1295.2 1147.2ZM1328.0 1160.0L1330.4 1159.2L1332.0 1161.9L1328.8 1162.9ZM1315.2 1167.2L1321.6 1166.7L1320.8 1169.6L1316.0 1169.9ZM1355.2 1176.0L1361.6 1171.2L1366.4 1177.6L1370.4 1184.0L1368.0 1187.2L1361.6 1182.4L1355.2 1180.8ZM1334.4 1192.0L1341.6 1192.8L1339.2 1196.8L1335.2 1196.5Z"/>
<path fill-rule="evenodd" d="M487.0 1297.0L492.0 1292.0L500.0 1289.0L507.0 1287.0L513.0 1290.0L518.0 1288.0L529.0 1280.0L532.4 1283.0L525.0 1290.0L519.0 1296.0L522.0 1300.0L531.0 1297.0L542.0 1296.0L548.0 1302.0L554.0 1308.0L548.0 1312.0L536.0 1314.0L530.0 1309.0L523.0 1304.0L520.0 1308.0L510.0 1312.0L504.0 1306.0L500.0 1310.0L495.0 1306.0L492.0 1301.0ZM507.0 1296.0L510.0 1294.0L511.0 1298.0L508.0 1299.0Z"/>
<path fill-rule="evenodd" d="M470.0 1306.0L474.0 1300.0L478.0 1298.0L486.0 1303.0L492.0 1305.0L497.0 1310.0L499.0 1318.0L500.0 1324.0L497.0 1330.0L480.0 1330.0L477.0 1322.0L478.0 1316.0L473.0 1311.0ZM480.0 1307.0L483.0 1306.4L483.0 1308.4L480.4 1308.8Z"/>
<path fill-rule="evenodd" d="M1308.0 1195.6L1317.6 1193.2L1317.6 1187.2L1385.4 1187.2L1385.4 1192.0L1386.0 1200.4L1378.8 1204.0L1373.4 1206.4L1374.0 1211.2L1372.8 1216.0L1373.4 1222.0L1376.4 1227.4L1382.4 1226.8L1386.0 1224.4L1389.6 1223.8L1392.0 1226.2L1389.6 1228.0L1388.4 1232.2L1393.8 1237.0L1393.2 1240.0L1387.2 1242.4L1380.0 1243.0L1372.8 1241.2L1368.0 1238.2L1368.0 1244.8L1370.4 1249.6L1374.0 1254.4L1376.4 1259.2L1380.0 1263.4L1377.6 1265.8L1371.6 1267.6L1365.6 1264.0L1359.6 1258.0L1357.2 1252.0L1353.6 1248.4L1348.2 1244.2L1342.8 1244.8L1344.0 1247.2L1347.6 1250.8L1344.0 1254.4L1342.8 1257.4L1346.4 1256.8L1349.4 1261.6L1352.4 1263.4L1348.8 1266.4L1348.8 1271.2L1352.4 1274.8L1352.4 1279.6L1348.8 1284.4L1342.8 1286.8L1339.2 1284.4L1334.4 1279.6L1329.6 1274.8L1323.6 1272.4L1318.8 1269.4L1317.6 1264.0L1314.0 1259.2L1308.0 1254.4L1302.0 1253.2L1294.8 1252.6L1293.4 1250.8L1297.2 1249.0L1303.2 1249.6L1309.2 1245.4L1315.2 1248.4L1321.2 1247.2L1325.4 1244.8L1322.4 1241.2L1319.4 1236.4L1318.8 1230.4L1316.4 1225.6L1320.0 1222.0L1324.8 1218.4L1317.6 1214.8L1310.4 1211.2L1303.2 1209.4L1299.0 1206.4L1299.6 1198.0ZM1320.0 1199.2L1323.6 1198.0L1329.4 1204.6L1329.0 1208.2L1325.4 1207.0L1320.6 1202.8ZM1335.0 1192.0L1341.6 1192.0L1339.2 1196.2L1335.6 1196.8Z"/>
</g>
<g fill="#5061aa">
<path d="M617.0 388.0L621.4 384.4L626.0 388.0L621.8 391.6ZM1043.0 276.0L1049.0 271.0L1055.0 276.0L1049.6 281.6ZM814.0 748.7L818.0 744.9L822.7 745.3L824.0 750.0L820.0 752.0ZM1093.6 640.0L1097.0 637.0L1102.0 638.0L1100.0 643.0L1095.6 643.0ZM289.0 772.0L296.0 768.0L301.6 767.0L305.0 772.0L304.4 779.0L301.0 782.0L297.0 779.0L289.0 780.0ZM1048.7 702.7L1052.0 698.0L1055.3 696.7L1059.3 699.3L1061.6 703.3L1064.7 708.0L1065.1 713.3L1066.7 720.0L1073.3 719.3L1076.7 722.7L1080.7 732.0L1083.3 738.7L1088.0 745.3L1092.0 747.3L1097.3 749.3L1098.4 760.0L1094.0 765.3L1092.0 773.3L1092.7 781.3L1095.7 786.7L1094.1 790.7L1094.7 794.7L1097.6 798.7L1094.1 803.3L1093.1 808.0L1093.3 818.7L1096.7 821.3L1103.3 820.0L1106.7 817.3L1112.0 823.3L1117.3 830.0L1118.0 835.3L1124.7 842.7L1125.3 850.0L1128.0 855.3L1133.3 864.7L1139.3 870.0L1141.6 874.0L1140.7 880.0L1086.7 880.0L1085.6 873.3L1085.3 862.0L1088.7 858.0L1086.7 851.3L1082.7 852.0L1078.9 849.1L1080.0 844.0L1084.3 839.3L1083.3 834.7L1078.7 832.0L1075.3 829.3L1077.3 824.0L1078.0 818.7L1078.7 812.7L1076.7 805.3L1072.7 800.0L1073.3 796.0L1072.7 792.0L1071.3 788.0L1072.7 785.3L1073.3 780.0L1068.0 774.7L1064.7 771.3L1062.7 765.3L1058.7 758.7L1054.7 752.7L1052.0 746.7L1051.3 736.0L1049.6 728.0L1049.6 720.0L1050.9 712.0L1049.6 706.7ZM1031.7 716.0L1033.3 712.0L1036.7 710.0L1042.0 712.7L1048.3 716.7L1048.0 728.7L1044.0 729.1L1038.7 724.7L1033.3 720.0ZM1141.3 877.3L1140.7 882.7L1142.0 889.3L1142.7 897.3L1145.3 902.7L1145.3 909.3L1148.0 916.0L1150.0 924.0L1154.7 932.0L1154.0 938.7L1156.7 946.7L1155.3 954.0L1151.3 956.0L1145.3 953.3L1140.0 948.7L1137.3 942.7L1134.7 938.7L1129.3 934.7L1122.7 929.3L1118.0 925.3L1119.3 920.7L1118.0 914.7L1113.3 910.7L1112.0 905.3L1110.7 901.3L1105.3 895.3L1097.3 889.3L1090.7 882.7L1086.0 877.3ZM1164.7 968.0L1165.3 959.3L1168.0 955.3L1173.3 952.7L1178.7 954.0L1183.3 958.0L1187.3 963.3L1191.3 970.7L1195.3 977.3L1199.3 984.7L1203.3 991.3L1206.7 997.3L1210.0 1005.3L1213.3 1012.0L1218.0 1018.0L1220.0 1020.0L1220.0 1060.0L1178.0 1060.0L1178.7 1052.0L1177.3 1046.7L1179.3 1042.7L1174.7 1036.0L1168.0 1029.3L1161.3 1023.3L1153.3 1024.7L1148.0 1020.0L1147.3 1015.3L1142.0 1012.7L1136.0 1018.0L1130.7 1013.3L1126.0 1010.0L1125.3 1005.3L1127.3 998.7L1123.3 992.0L1122.0 986.7L1122.7 985.3L1136.0 985.3L1148.0 988.7L1161.3 988.0L1164.7 985.3L1162.7 978.7L1165.3 973.3ZM1344.8 843.2L1349.6 843.2L1353.6 849.6L1360.0 851.2L1363.2 856.0L1361.6 861.6L1356.0 860.8L1350.4 856.0L1346.4 851.2ZM1373.1 887.2L1375.7 884.5L1377.9 887.2L1377.6 891.2L1375.7 893.1L1373.6 891.2ZM1345.9 899.5L1348.8 896.8L1352.0 900.0L1351.7 903.7L1348.8 906.4L1346.2 904.0ZM1337.9 932.0L1342.1 927.2L1348.8 919.7L1352.8 923.2L1347.2 929.3L1346.4 935.2L1342.4 938.9L1339.5 936.0ZM1345.3 949.1L1348.8 945.6L1354.4 945.3L1358.4 948.2L1353.3 952.8L1348.8 957.1L1345.6 953.6ZM1280.0 992.8L1284.0 986.4L1288.0 982.4L1295.2 982.1L1299.5 985.6L1299.2 994.4L1296.0 998.4L1289.6 1001.3L1284.0 999.7ZM1288.8 1057.6L1294.4 1050.4L1298.4 1049.6L1299.2 1055.2L1294.4 1060.0L1289.6 1062.4ZM1305.9 1050.4L1310.4 1047.2L1313.9 1049.6L1312.0 1057.6L1308.8 1064.0L1306.9 1056.0ZM1392.8 1188.0L1395.2 1185.6L1399.2 1187.5L1402.9 1191.2L1403.5 1194.4L1401.3 1195.5L1396.0 1193.3L1393.3 1190.7ZM1215.3 1053.3L1217.3 1060.0L1219.3 1066.7L1220.0 1074.7L1222.7 1082.7L1228.0 1090.7L1230.0 1096.0L1232.3 1105.3L1231.3 1120.0L1232.3 1133.3L1230.7 1146.7L1231.3 1160.0L1232.3 1168.0L1232.0 1181.3L1235.3 1187.3L1233.3 1191.3L1233.1 1200.0L1231.3 1210.7L1229.3 1218.7L1228.7 1226.7L1226.0 1232.0L1224.7 1240.0L1205.3 1240.0L1209.3 1235.3L1216.0 1233.3L1219.3 1226.7L1218.0 1218.7L1218.7 1212.7L1223.3 1208.7L1226.7 1206.0L1225.3 1200.7L1221.3 1195.3L1218.0 1192.0L1214.9 1186.7L1218.0 1182.0L1217.3 1178.7L1202.7 1178.0L1199.3 1181.3L1194.9 1183.3L1192.3 1180.7L1195.3 1177.3L1200.0 1173.3L1203.3 1170.9L1218.0 1170.0L1212.0 1165.3L1207.3 1162.0L1204.7 1156.7L1200.7 1151.3L1198.0 1147.3L1195.7 1143.3L1198.4 1138.7L1196.7 1133.3L1194.0 1127.3L1191.3 1120.0L1188.7 1113.3L1187.3 1106.0L1182.7 1102.7L1176.7 1106.0L1174.0 1108.0L1164.7 1108.7L1161.3 1106.7L1162.7 1103.3L1168.7 1101.3L1174.0 1096.0L1178.7 1094.0L1182.0 1090.7L1179.3 1084.7L1173.3 1078.7L1164.0 1070.7L1159.3 1067.3L1160.0 1063.3L1158.0 1059.3L1152.7 1052.7L1150.7 1049.3L1153.3 1046.0L1155.3 1046.0L1158.0 1049.3L1160.0 1054.7L1165.3 1060.0L1170.7 1065.3L1173.1 1069.3L1173.1 1074.9L1180.0 1076.3L1184.3 1074.4L1185.6 1066.7L1183.3 1060.0L1180.0 1056.0L1178.0 1053.3ZM1138.9 1084.0L1139.7 1080.3L1142.4 1078.0L1146.0 1078.4L1149.6 1079.5L1151.7 1082.0L1150.9 1086.0L1149.1 1089.1L1142.0 1089.1L1139.5 1086.7ZM1191.3 1212.7L1194.4 1209.7L1198.7 1208.5L1202.9 1210.0L1205.3 1212.7L1202.0 1215.7L1194.9 1216.0ZM1216.5 1012.8L1222.9 1033.6L1217.1 1046.4L1218.1 1060.8L1215.2 1060.8L1215.2 1012.8ZM554.0 1066.0L557.0 1061.0L564.0 1058.0L580.0 1055.0L580.0 1062.0L568.0 1064.4L560.0 1068.0L557.0 1073.0ZM436.4 1121.0L438.0 1117.0L442.0 1115.0L445.0 1117.6L441.6 1122.0ZM482.0 1112.0L494.0 1107.0L497.0 1116.0L504.0 1123.0L515.0 1118.0L519.0 1125.0L523.0 1133.0L532.0 1126.0L542.0 1118.0L549.0 1110.0L550.0 1111.0L542.0 1121.0L532.0 1129.0L523.0 1136.0L519.0 1129.0L508.0 1130.0L498.0 1120.0L488.0 1119.0ZM560.0 1144.0L564.0 1136.0L572.0 1131.0L580.0 1128.0L580.0 1150.0L568.0 1147.0ZM481.0 1190.0L484.0 1183.0L491.0 1181.0L498.0 1182.4L508.0 1192.0L517.0 1188.0L526.0 1186.0L533.0 1181.0L540.0 1181.0L544.0 1188.0L553.0 1196.0L562.0 1202.0L572.0 1208.0L580.0 1210.0L580.0 1213.0L568.0 1211.0L560.0 1206.0L552.0 1207.0L544.0 1201.0L538.0 1197.0L530.0 1196.0L520.0 1194.0L512.0 1197.0L508.0 1201.0L496.0 1192.0L489.0 1187.0ZM488.0 1238.0L496.0 1236.0L505.0 1237.0L508.0 1239.6L499.0 1240.0L490.0 1239.6ZM533.0 1260.0L535.0 1255.0L540.0 1260.0L552.0 1263.0L562.0 1263.0L570.0 1269.0L580.0 1278.0L580.0 1284.0L560.0 1285.0L550.0 1282.4L542.0 1276.4L533.0 1268.0ZM489.6 1275.0L492.4 1272.0L496.0 1270.4L499.0 1273.0L501.6 1276.4L499.0 1278.0L493.0 1278.0ZM538.0 1330.0L544.0 1323.0L554.0 1319.0L564.0 1322.0L574.0 1314.0L580.0 1312.0L580.0 1330.0Z"/>
<path fill-rule="evenodd" d="M1240.8 1012.8L1243.2 1004.8L1249.6 998.4L1260.8 996.5L1268.8 996.0L1274.4 1000.8L1278.4 1006.4L1279.2 1014.4L1275.2 1023.2L1260.8 1020.0L1251.2 1021.6L1246.4 1027.2L1240.0 1024.0ZM1254.4 1008.0L1261.6 1007.2L1264.8 1010.4L1260.0 1013.6L1255.2 1012.2ZM1266.4 1014.7L1273.9 1013.8L1276.8 1016.8L1270.4 1021.1L1266.4 1018.9Z"/>
<path fill-rule="evenodd" d="M1371.2 1056.0L1376.0 1056.0L1381.6 1058.4L1389.6 1057.6L1395.2 1052.0L1407.2 1049.9L1408.8 1053.6L1413.6 1058.4L1417.6 1064.0L1422.4 1069.6L1430.4 1072.8L1430.4 1148.8L1423.2 1150.4L1412.8 1154.4L1405.6 1157.6L1401.6 1156.0L1404.0 1151.2L1400.0 1144.0L1392.8 1139.2L1386.4 1134.4L1384.8 1128.0L1389.6 1125.6L1394.4 1121.6L1397.1 1114.4L1392.8 1106.4L1391.2 1099.2L1388.0 1093.6L1382.4 1088.8L1377.6 1091.2L1375.2 1086.4L1372.8 1079.2L1372.0 1071.2L1368.0 1068.8L1366.4 1062.4L1368.0 1057.6ZM1408.0 1129.6L1416.3 1122.4L1417.0 1129.9L1413.6 1132.0Z"/>
<path fill-rule="evenodd" d="M1283.2 1117.6L1289.6 1114.4L1292.8 1110.4L1292.8 1102.4L1296.0 1096.0L1302.4 1100.8L1312.0 1105.6L1320.0 1107.2L1321.6 1113.6L1315.2 1116.8L1310.4 1121.6L1308.8 1131.2L1304.0 1132.8L1296.0 1129.6L1289.6 1123.2ZM1300.0 1123.2L1302.4 1122.4L1303.2 1124.8L1300.8 1125.1Z"/>
<path fill-rule="evenodd" d="M1308.8 1154.4L1315.2 1148.8L1324.8 1154.4L1336.0 1156.8L1344.0 1157.6L1347.2 1163.2L1344.0 1172.8L1350.4 1184.0L1348.8 1200.0L1321.6 1200.0L1320.0 1190.4L1318.4 1182.4L1312.0 1172.8L1310.4 1164.8L1312.0 1160.0ZM1327.7 1159.7L1330.6 1158.9L1332.3 1162.1L1328.6 1163.2ZM1314.9 1166.9L1321.9 1166.4L1321.1 1169.9L1315.8 1170.2ZM1334.1 1191.7L1341.9 1192.5L1339.4 1197.1L1335.0 1196.8Z"/>
<path fill-rule="evenodd" d="M492.0 1297.0L500.0 1292.0L507.0 1290.0L513.0 1293.0L516.0 1298.0L519.0 1303.0L510.0 1309.0L505.0 1303.0L500.0 1306.0L496.0 1302.0ZM506.6 1295.6L510.2 1293.6L511.4 1298.2L507.8 1299.4Z"/>
<path fill-rule="evenodd" d="M474.0 1306.0L478.4 1302.0L486.0 1307.0L494.0 1310.0L496.0 1318.0L495.0 1328.0L482.0 1328.0L481.0 1316.0L476.0 1310.0ZM479.6 1306.6L483.4 1306.0L483.4 1308.8L480.0 1309.2Z"/>
<path fill-rule="evenodd" d="M1308.0 1201.6L1312.8 1198.0L1317.6 1199.2L1320.0 1196.8L1324.8 1208.8L1332.0 1204.0L1344.0 1196.8L1351.2 1192.0L1356.0 1192.0L1368.0 1189.6L1377.6 1192.0L1378.8 1199.2L1371.6 1204.0L1370.4 1211.2L1370.4 1219.6L1368.0 1228.0L1365.6 1235.2L1366.8 1243.6L1370.4 1250.8L1374.0 1258.0L1376.4 1262.8L1371.6 1265.2L1366.8 1261.6L1362.0 1256.8L1359.6 1250.8L1354.8 1246.0L1348.8 1242.4L1342.8 1242.4L1336.8 1244.8L1344.0 1249.6L1342.8 1253.2L1340.4 1258.0L1346.4 1261.6L1344.0 1267.6L1346.4 1273.6L1350.0 1277.2L1347.6 1282.0L1342.8 1284.4L1336.8 1278.4L1330.8 1272.4L1324.8 1270.0L1321.2 1267.6L1320.0 1261.6L1316.4 1256.8L1320.0 1250.8L1327.2 1247.2L1328.4 1242.4L1324.8 1237.6L1322.4 1231.6L1321.2 1225.6L1326.0 1220.8L1330.8 1217.2L1324.8 1213.6L1317.6 1212.4L1310.4 1208.8L1307.4 1205.2ZM1319.8 1199.0L1323.7 1197.6L1329.7 1204.6L1329.4 1208.6L1325.4 1207.4L1320.4 1203.0Z"/>
</g>
<path fill="#5061aa" fill-rule="evenodd" stroke="#5c51a3" stroke-width="1.8" stroke-linejoin="round" d="M829.0 683.3L829.3 669.3L831.0 664.0L834.3 661.2L836.7 661.5L839.3 664.0L844.0 664.0L848.3 659.2L851.3 661.3L857.3 667.3L860.0 670.0L863.3 670.0L868.0 665.3L876.0 665.0L886.7 654.7L894.7 649.0L896.7 649.3L900.7 652.7L906.0 655.7L910.0 656.3L915.3 654.0L917.7 656.0L920.0 658.7L922.7 662.7L928.0 669.3L933.3 674.0L936.0 676.3L934.7 681.3L929.3 686.7L926.7 684.7L924.3 682.7L923.7 677.3L919.3 672.7L915.3 669.0L909.3 674.3L902.0 676.0L902.0 677.0L916.0 677.3L920.7 682.0L916.0 686.7L914.3 689.3L914.7 692.0L928.7 691.3L933.0 695.0L929.3 697.3L922.0 697.7L916.0 701.7L913.3 700.0L908.7 700.3L906.7 700.3L903.3 692.0L896.7 692.7L893.3 691.3L888.7 688.0L886.0 693.3L892.7 700.3L892.3 704.0L888.0 707.3L884.0 709.7L882.0 709.3L881.7 714.0L876.7 717.7L871.3 717.7L867.3 718.7L841.3 717.7L837.3 713.0L842.0 708.0L848.7 701.3L858.0 701.0L858.0 699.7L848.0 697.3L836.7 689.3ZM848.0 670.0L850.0 670.0L850.0 671.2L848.0 671.2ZM841.7 676.0L843.0 676.0L843.0 677.2L841.7 677.2ZM861.7 682.3L868.0 681.0L872.0 682.7L869.0 689.0ZM874.0 676.3L883.0 676.0L879.3 679.0L875.3 679.0ZM895.0 663.3L902.7 662.0L909.0 659.0L909.7 662.7L908.7 664.7L901.0 665.7L895.0 671.0ZM874.7 694.3L877.0 694.0L875.7 696.0ZM861.7 706.0L863.0 706.0L863.0 707.0Z"/>
<path fill="#5061aa" fill-rule="evenodd" stroke="#5c51a3" stroke-width="1.8" stroke-linejoin="round" d="M805.3 663.3L808.7 660.9L812.0 662.7L816.0 666.7L821.3 665.3L827.3 670.0L822.7 675.3L818.7 674.0L814.0 671.3Z"/>
<path fill="#5061aa" fill-rule="evenodd" stroke="#5c51a3" stroke-width="1.8" stroke-linejoin="round" d="M805.3 702.0L808.0 698.7L815.3 699.1L822.7 706.7L829.3 703.1L833.1 706.7L828.0 712.7L846.0 730.7L845.6 737.7L841.6 740.7L835.3 735.3L830.7 732.7L829.3 736.0L812.0 735.3L801.3 734.7L798.0 731.3L801.3 728.4L810.7 728.4L827.3 727.1L828.7 723.3L824.0 719.1L818.7 718.0L811.3 713.3L808.7 708.7L806.0 706.7Z"/>
<path fill="#5061aa" fill-rule="evenodd" stroke="#5c51a3" stroke-width="1.8" stroke-linejoin="round" d="M708.0 757.0L722.4 751.6L731.6 761.0L722.4 772.4L718.0 768.0Z"/>
<path fill="#5061aa" fill-rule="evenodd" stroke="#5c51a3" stroke-width="1.8" stroke-linejoin="round" d="M811.0 749.0L815.0 743.0L822.0 741.0L826.4 745.0L826.4 751.0L821.0 754.4L814.4 753.6Z"/>
<path fill="#5061aa" fill-rule="evenodd" stroke="#5c51a3" stroke-width="1.8" stroke-linejoin="round" d="M580.0 1051.0L583.0 1050.0L587.0 1055.0L586.0 1062.0L582.0 1065.0L580.0 1064.0Z"/>
<path fill="#5061aa" fill-rule="evenodd" stroke="#5c51a3" stroke-width="1.8" stroke-linejoin="round" d="M598.0 1062.0L603.0 1056.0L606.0 1047.0L610.0 1046.0L616.0 1048.0L613.0 1054.0L617.0 1057.0L623.0 1050.0L628.0 1047.0L631.6 1052.0L632.4 1060.0L638.0 1065.0L644.0 1063.0L648.0 1069.0L649.0 1076.0L651.0 1080.0L647.0 1081.6L640.0 1076.0L635.0 1075.0L629.0 1069.0L623.0 1071.0L617.0 1065.0L612.0 1063.0L608.0 1068.0L603.0 1069.0L599.0 1066.0Z"/>
<path fill="#5061aa" fill-rule="evenodd" stroke="#5c51a3" stroke-width="1.8" stroke-linejoin="round" d="M671.0 1055.0L675.6 1049.0L680.0 1055.0L675.6 1061.0Z"/>
<path fill="#5061aa" fill-rule="evenodd" stroke="#5c51a3" stroke-width="1.8" stroke-linejoin="round" d="M684.0 1054.0L688.0 1047.0L695.0 1044.0L700.0 1048.0L697.0 1053.0L692.0 1057.0L687.0 1058.0Z"/>
<path fill="#5061aa" fill-rule="evenodd" stroke="#5c51a3" stroke-width="1.8" stroke-linejoin="round" d="M657.0 1067.0L662.0 1059.0L667.6 1067.0L665.0 1073.0L661.0 1075.6L658.0 1072.0Z"/>
<path fill="#5061aa" fill-rule="evenodd" stroke="#5c51a3" stroke-width="1.8" stroke-linejoin="round" d="M707.0 1061.0L710.0 1059.0L716.0 1061.0L722.0 1054.0L727.0 1060.0L723.0 1065.0L718.0 1063.0L711.0 1064.0Z"/>
<path fill="#5061aa" fill-rule="evenodd" stroke="#5c51a3" stroke-width="1.8" stroke-linejoin="round" d="M677.0 1082.0L682.0 1075.0L687.6 1083.0L687.0 1089.0L682.4 1094.4L678.0 1090.0Z"/>
<path fill="#5061aa" fill-rule="evenodd" stroke="#5c51a3" stroke-width="1.8" stroke-linejoin="round" d="M697.6 1086.0L700.0 1079.0L705.0 1077.0L711.0 1079.0L711.6 1073.0L716.0 1068.0L720.0 1073.0L719.0 1081.0L714.0 1087.0L716.0 1093.0L723.0 1095.0L727.0 1100.0L726.0 1107.0L722.0 1109.0L718.0 1105.0L713.0 1098.0L706.0 1096.0L700.0 1093.0Z"/>
<path fill="#5061aa" fill-rule="evenodd" stroke="#5c51a3" stroke-width="1.8" stroke-linejoin="round" d="M763.6 1092.0L769.0 1083.0L773.6 1090.0L773.0 1096.0L769.0 1101.0L765.0 1097.0Z"/>
<path fill="#5061aa" fill-rule="evenodd" stroke="#5c51a3" stroke-width="1.8" stroke-linejoin="round" d="M580.0 1125.0L584.0 1114.0L587.0 1109.0L595.0 1105.0L602.0 1106.0L605.0 1096.0L609.0 1089.0L613.0 1094.0L615.0 1102.0L619.0 1110.0L621.0 1116.0L617.0 1120.0L610.0 1122.0L604.0 1126.0L599.0 1132.0L595.0 1138.0L590.0 1139.0L586.0 1148.0L582.0 1158.0L580.0 1160.0Z"/>
<path fill="#5061aa" fill-rule="evenodd" stroke="#5c51a3" stroke-width="1.8" stroke-linejoin="round" d="M643.6 1108.0L649.0 1100.0L654.0 1108.0L653.0 1114.0L649.0 1117.0L644.4 1113.0Z"/>
<path fill="#5061aa" fill-rule="evenodd" stroke="#5c51a3" stroke-width="1.8" stroke-linejoin="round" d="M663.0 1103.0L666.0 1094.0L669.0 1090.0L672.4 1095.0L674.0 1103.0L671.0 1109.0L667.0 1111.0Z"/>
<path fill="#5061aa" fill-rule="evenodd" stroke="#5c51a3" stroke-width="1.8" stroke-linejoin="round" d="M684.4 1118.0L689.0 1111.6L693.6 1118.0L692.0 1124.0L688.4 1127.6L685.0 1123.0Z"/>
<path fill="#5061aa" fill-rule="evenodd" stroke="#5c51a3" stroke-width="1.8" stroke-linejoin="round" d="M624.0 1128.0L625.0 1123.0L629.0 1120.0L633.0 1124.0L634.0 1129.0L638.0 1131.0L643.0 1128.0L648.0 1131.0L653.0 1124.0L656.0 1122.0L660.0 1128.0L661.0 1136.0L657.0 1141.0L650.0 1142.0L642.0 1148.0L636.0 1143.0L630.0 1137.0L625.0 1132.0Z"/>
<path fill="#5061aa" fill-rule="evenodd" stroke="#5c51a3" stroke-width="1.8" stroke-linejoin="round" d="M717.6 1136.0L720.0 1131.0L725.0 1128.0L730.0 1129.6L734.0 1135.0L732.0 1140.0L726.0 1142.0L720.0 1141.0Z"/>
<path fill="#5061aa" fill-rule="evenodd" stroke="#5c51a3" stroke-width="1.8" stroke-linejoin="round" d="M732.0 1104.0L738.0 1103.0L744.0 1100.0L749.0 1094.0L754.0 1099.0L761.0 1105.0L756.0 1109.0L750.0 1110.0L743.0 1117.0L738.0 1112.0Z"/>
<path fill="#5061aa" fill-rule="evenodd" stroke="#5c51a3" stroke-width="1.8" stroke-linejoin="round" d="M812.0 1104.0L816.0 1101.0L820.0 1106.0L825.0 1112.0L827.0 1118.0L822.0 1122.0L818.0 1117.0L814.0 1110.0Z"/>
<path fill="#5061aa" fill-rule="evenodd" stroke="#5c51a3" stroke-width="1.8" stroke-linejoin="round" d="M790.0 1135.0L795.0 1129.0L801.0 1132.0L808.0 1139.0L817.0 1146.0L821.0 1150.0L818.0 1157.0L812.0 1154.0L804.0 1147.0L797.0 1142.0Z"/>
<path fill="#5061aa" fill-rule="evenodd" stroke="#5c51a3" stroke-width="1.8" stroke-linejoin="round" d="M830.0 1138.0L831.0 1131.0L836.0 1126.0L840.0 1130.0L844.0 1138.0L848.0 1147.0L847.0 1153.0L842.0 1155.0L836.0 1150.0L831.6 1144.0Z"/>
<path fill="#5061aa" fill-rule="evenodd" stroke="#5c51a3" stroke-width="1.8" stroke-linejoin="round" d="M856.0 1138.0L862.0 1132.0L868.0 1138.0L876.0 1146.0L880.0 1150.0L880.0 1162.0L873.0 1158.0L866.0 1150.0L860.0 1144.0Z"/>
<path fill="#5061aa" fill-rule="evenodd" stroke="#5c51a3" stroke-width="1.8" stroke-linejoin="round" d="M611.0 1157.0L614.0 1150.0L620.0 1146.0L625.6 1149.0L621.0 1155.0L616.0 1160.0Z"/>
<path fill="#5061aa" fill-rule="evenodd" stroke="#5c51a3" stroke-width="1.8" stroke-linejoin="round" d="M657.0 1158.0L660.0 1152.0L664.0 1151.0L668.0 1156.0L667.0 1163.0L662.0 1167.0L658.0 1163.0Z"/>
<path fill="#5061aa" fill-rule="evenodd" stroke="#5c51a3" stroke-width="1.8" stroke-linejoin="round" d="M611.6 1190.0L615.0 1185.0L622.0 1182.4L630.0 1186.0L637.0 1188.0L633.0 1195.0L628.0 1198.4L619.0 1198.0L614.0 1195.0Z"/>
<path fill="#5061aa" fill-rule="evenodd" stroke="#5c51a3" stroke-width="1.8" stroke-linejoin="round" d="M676.0 1186.0L677.0 1174.0L680.0 1166.0L683.0 1165.0L687.0 1170.0L695.0 1166.0L705.0 1164.0L709.0 1160.0L712.0 1163.0L713.0 1168.0L722.0 1170.0L730.0 1176.0L738.0 1179.0L740.0 1188.0L746.0 1196.0L756.0 1202.0L764.0 1208.0L775.0 1208.0L782.0 1213.0L790.0 1221.0L798.0 1228.0L804.0 1233.0L806.0 1238.0L803.0 1241.6L796.0 1241.0L788.0 1235.0L780.0 1230.0L772.0 1225.0L760.0 1223.0L752.0 1219.0L742.0 1211.0L734.0 1207.0L729.0 1198.0L724.0 1192.0L714.0 1190.0L704.0 1189.0L694.0 1191.0L686.0 1192.0L681.0 1196.0L678.0 1192.0Z"/>
<path fill="#5061aa" fill-rule="evenodd" stroke="#5c51a3" stroke-width="1.8" stroke-linejoin="round" d="M580.0 1196.0L586.0 1195.0L594.0 1193.0L593.0 1187.0L596.0 1184.0L600.0 1188.0L605.0 1196.0L611.0 1202.0L613.0 1207.0L620.0 1208.0L628.0 1207.0L636.0 1202.0L646.0 1197.0L657.0 1195.0L661.0 1192.0L665.0 1196.0L668.0 1204.0L673.0 1208.0L674.0 1214.0L673.0 1225.0L669.0 1230.0L664.0 1225.0L656.0 1219.0L648.0 1218.0L638.0 1217.0L630.0 1224.0L620.0 1225.0L613.0 1220.0L607.0 1217.0L600.0 1221.0L596.0 1224.0L592.0 1219.0L588.0 1213.0L580.0 1210.0Z"/>
<path fill="#5061aa" fill-rule="evenodd" stroke="#5c51a3" stroke-width="1.8" stroke-linejoin="round" d="M709.6 1219.0L714.0 1215.0L721.0 1213.0L727.0 1215.0L731.0 1219.0L727.0 1226.0L721.0 1230.0L715.0 1227.0L711.0 1223.0Z"/>
<path fill="#5061aa" fill-rule="evenodd" stroke="#5c51a3" stroke-width="1.8" stroke-linejoin="round" d="M819.0 1190.0L822.0 1186.0L827.0 1188.0L835.0 1194.0L841.0 1200.0L837.0 1206.0L830.0 1205.0L824.0 1198.0Z"/>
<path fill="#5061aa" fill-rule="evenodd" stroke="#5c51a3" stroke-width="1.8" stroke-linejoin="round" d="M580.0 1221.0L584.0 1222.0L587.6 1228.0L586.0 1234.0L582.0 1237.0L580.0 1236.0Z"/>
<path fill="#5061aa" fill-rule="evenodd" stroke="#5c51a3" stroke-width="1.8" stroke-linejoin="round" d="M616.0 1238.0L622.0 1233.0L628.0 1238.0L622.4 1243.6Z"/>
<path fill="#5061aa" fill-rule="evenodd" stroke="#5c51a3" stroke-width="1.8" stroke-linejoin="round" d="M597.0 1247.0L600.0 1242.0L607.0 1239.0L612.0 1242.0L615.0 1246.0L610.0 1250.0L605.0 1254.0L600.0 1254.0Z"/>
<path fill="#5061aa" fill-rule="evenodd" stroke="#5c51a3" stroke-width="1.8" stroke-linejoin="round" d="M657.0 1242.0L659.0 1236.0L662.0 1234.0L668.0 1239.0L676.0 1240.0L684.0 1247.0L692.0 1254.0L700.0 1262.0L707.0 1269.0L710.0 1262.0L716.0 1258.0L722.0 1258.0L728.0 1263.0L736.0 1266.0L742.0 1271.0L754.0 1271.0L761.0 1278.0L766.0 1284.0L767.0 1294.0L763.0 1301.0L758.0 1296.0L752.0 1290.0L746.0 1285.0L738.0 1281.0L728.0 1279.0L720.0 1276.0L714.0 1279.0L708.0 1282.0L700.0 1279.0L692.0 1272.0L684.0 1265.0L676.0 1260.0L668.0 1252.0L662.0 1247.0Z"/>
<path fill="#5061aa" fill-rule="evenodd" stroke="#5c51a3" stroke-width="1.8" stroke-linejoin="round" d="M617.0 1266.0L621.0 1258.0L628.0 1254.0L633.0 1258.0L634.0 1264.0L642.0 1270.0L649.0 1271.0L657.0 1277.0L664.0 1272.0L670.0 1271.0L676.0 1276.0L684.0 1280.0L694.0 1288.0L702.0 1291.0L707.0 1295.0L708.0 1304.0L712.0 1307.0L720.0 1316.0L728.0 1324.0L734.0 1330.0L704.0 1330.0L703.0 1320.0L698.0 1312.0L689.0 1306.0L680.0 1298.0L672.0 1294.0L660.0 1294.0L650.0 1294.0L640.0 1286.0L630.0 1278.0L622.0 1273.0Z"/>
<path fill="#5061aa" fill-rule="evenodd" stroke="#5c51a3" stroke-width="1.8" stroke-linejoin="round" d="M580.0 1279.0L588.0 1283.0L596.0 1286.0L602.0 1292.0L610.0 1300.0L616.0 1305.0L623.0 1304.0L628.0 1309.0L626.0 1316.0L619.0 1320.0L612.0 1318.0L604.0 1311.0L596.0 1304.0L588.0 1300.0L580.0 1298.0Z"/>
<path fill="#5061aa" fill-rule="evenodd" stroke="#5c51a3" stroke-width="1.8" stroke-linejoin="round" d="M580.0 1312.0L586.0 1314.0L592.0 1320.0L596.0 1330.0L580.0 1330.0Z"/>
<path fill="#5061aa" fill-rule="evenodd" stroke="#5c51a3" stroke-width="1.8" stroke-linejoin="round" d="M612.0 1328.0L617.0 1324.0L624.0 1327.0L630.0 1330.0L614.0 1330.0Z"/>
<path fill="#5061aa" fill-rule="evenodd" stroke="#5c51a3" stroke-width="1.8" stroke-linejoin="round" d="M781.0 1276.0L784.0 1270.0L788.0 1266.0L795.0 1267.0L802.0 1270.0L810.0 1271.0L814.0 1276.0L813.0 1283.0L808.0 1288.0L803.0 1291.0L797.0 1287.0L790.0 1282.0Z"/>
<path fill="#5061aa" fill-rule="evenodd" stroke="#5c51a3" stroke-width="1.8" stroke-linejoin="round" d="M817.0 1296.0L820.0 1291.0L825.0 1293.0L832.0 1298.0L837.0 1302.0L834.0 1307.0L829.0 1308.4L823.0 1305.0L819.0 1301.0Z"/>
<path fill="#5061aa" fill-rule="evenodd" stroke="#5c51a3" stroke-width="1.8" stroke-linejoin="round" d="M742.0 1302.0L748.0 1297.0L753.0 1303.0L753.6 1312.0L751.0 1318.0L747.0 1316.0L744.0 1310.0Z"/>
<path fill="#5061aa" fill-rule="evenodd" stroke="#5c51a3" stroke-width="1.8" stroke-linejoin="round" d="M856.0 1137.0L863.0 1132.0L869.0 1139.0L877.0 1148.0L884.0 1155.0L884.4 1160.0L880.0 1162.0L874.0 1160.0L867.0 1153.0L860.0 1145.0L856.0 1142.0Z"/>
<path fill="#5061aa" fill-rule="evenodd" stroke="#5c51a3" stroke-width="1.8" stroke-linejoin="round" d="M966.0 1179.0L969.0 1173.6L976.0 1175.6L983.0 1180.0L990.0 1188.0L995.0 1195.0L997.6 1201.0L992.0 1203.6L987.0 1202.0L982.0 1194.0L976.0 1187.0L970.0 1184.0Z"/>
<path fill="#5061aa" fill-rule="evenodd" stroke="#5c51a3" stroke-width="1.8" stroke-linejoin="round" d="M964.0 1219.0L968.0 1215.0L976.0 1221.0L987.0 1232.0L982.4 1237.0L975.0 1231.0L968.0 1224.0Z"/>
<path fill="#5061aa" fill-rule="evenodd" stroke="#5c51a3" stroke-width="1.8" stroke-linejoin="round" d="M939.0 1279.0L941.6 1273.0L948.0 1277.0L954.0 1283.0L957.6 1289.0L955.0 1292.0L948.0 1288.4L940.0 1285.0Z"/>
<path fill="#5061aa" fill-rule="evenodd" stroke="#5c51a3" stroke-width="1.8" stroke-linejoin="round" d="M498.9 1313.3L500.0 1326.7L494.4 1332.2L488.9 1327.8L483.3 1332.2L477.8 1326.7L475.6 1312.2Z"/>
<path fill="#5061aa" fill-rule="evenodd" stroke="#5c51a3" stroke-width="1.8" stroke-linejoin="round" d="M476.7 1345.6L478.9 1338.9L484.4 1336.0L490.0 1337.3L496.7 1342.2L504.4 1340.0L515.6 1331.1L522.2 1332.2L531.1 1333.3L537.8 1326.7L544.4 1325.6L553.3 1321.1L557.8 1316.7L566.7 1318.2L573.3 1312.2L582.2 1311.6L590.0 1317.8L595.6 1326.7L602.2 1333.3L608.9 1334.4L611.1 1327.8L615.6 1325.6L626.7 1327.8L637.8 1334.4L648.9 1335.6L657.8 1342.2L666.7 1342.2L680.0 1341.1L680.0 1366.7L666.7 1364.4L655.6 1357.8L646.7 1354.4L635.6 1346.7L622.2 1341.1L613.3 1342.2L608.9 1345.6L602.2 1345.6L595.6 1340.0L586.7 1336.7L577.8 1335.6L564.4 1342.2L546.7 1345.6L535.6 1351.1L531.1 1347.8L522.2 1345.6L511.1 1348.9L502.2 1351.1L496.7 1357.8L488.9 1357.8L480.0 1352.2Z"/>
<path fill="#5061aa" fill-rule="evenodd" stroke="#5c51a3" stroke-width="1.8" stroke-linejoin="round" d="M445.6 1392.2L451.1 1387.8L457.8 1387.8L464.4 1381.1L475.6 1380.0L482.2 1374.4L488.9 1373.3L495.6 1368.4L502.2 1372.2L511.1 1371.1L510.0 1365.6L515.6 1361.1L524.4 1361.8L527.8 1366.2L521.1 1373.3L525.6 1377.8L531.1 1374.4L546.7 1373.3L568.9 1372.2L570.0 1360.0L575.6 1353.3L582.2 1347.8L591.1 1350.0L600.0 1353.3L608.9 1357.8L626.7 1355.6L635.6 1354.4L646.7 1360.0L657.8 1364.4L671.1 1353.3L680.0 1348.9L680.0 1393.3L445.6 1393.3ZM482.2 1386.7L488.9 1384.4L500.0 1385.6L502.2 1390.0L482.2 1391.1ZM614.4 1371.1L617.8 1366.7L623.3 1371.1L628.9 1377.8L624.4 1380.0L617.8 1375.6ZM667.8 1366.7L675.6 1366.2L680.0 1371.1L680.0 1377.8L673.3 1375.6ZM566.7 1387.8L573.3 1384.4L575.6 1392.2L564.4 1392.2Z"/>
<path fill="#5061aa" fill-rule="evenodd" stroke="#5c51a3" stroke-width="1.8" stroke-linejoin="round" d="M703.3 1326.7L705.6 1317.8L713.3 1315.6L720.0 1322.2L728.9 1328.9L735.6 1333.3L742.2 1330.0L751.1 1331.1L755.6 1337.8L760.0 1344.4L764.4 1352.2L771.1 1360.0L780.0 1363.3L788.9 1364.4L797.8 1373.3L808.9 1377.8L820.0 1385.6L826.7 1392.2L768.9 1392.2L762.2 1384.4L753.3 1377.8L747.8 1371.1L742.2 1366.7L741.1 1357.8L735.6 1360.0L731.1 1364.4L724.4 1357.8L715.6 1350.0L707.8 1344.4L703.3 1338.9ZM741.1 1347.8L746.7 1345.6L751.1 1350.0L755.6 1358.9L751.1 1363.3L745.6 1360.0L741.1 1354.4Z"/>
<path fill="#5061aa" fill-rule="evenodd" stroke="#5c51a3" stroke-width="1.8" stroke-linejoin="round" d="M660.0 1346.7L668.9 1342.2L680.0 1341.1L691.1 1342.2L698.9 1350.0L711.1 1360.0L720.0 1366.7L728.9 1373.3L737.8 1382.2L746.7 1392.2L700.0 1392.2L695.6 1382.2L686.7 1373.3L677.8 1366.7L668.9 1365.6L663.3 1373.3L671.1 1382.2L680.0 1392.2L660.0 1392.2Z"/>
<path fill="#5061aa" fill-rule="evenodd" stroke="#5c51a3" stroke-width="1.8" stroke-linejoin="round" d="M823.3 1341.1L827.8 1336.7L833.3 1341.1L842.2 1344.4L853.3 1347.8L864.4 1355.6L877.8 1362.2L891.1 1371.1L904.4 1378.9L912.2 1384.4L913.3 1392.2L884.4 1392.2L873.3 1382.2L860.0 1373.3L848.9 1364.4L837.8 1358.9L828.9 1351.1Z"/>
<path fill="#5061aa" fill-rule="evenodd" stroke="#5c51a3" stroke-width="1.8" stroke-linejoin="round" d="M997.8 1353.3L998.9 1344.4L1001.8 1337.3L1004.4 1343.3L1010.0 1350.0L1017.8 1357.8L1024.4 1366.7L1028.9 1377.8L1030.0 1386.7L1024.4 1383.3L1017.8 1375.6L1011.1 1366.7L1004.4 1358.9Z"/>
<path fill="#5061aa" fill-rule="evenodd" stroke="#5c51a3" stroke-width="1.8" stroke-linejoin="round" d="M1034.4 1342.2L1041.1 1342.2L1047.8 1350.0L1055.6 1356.7L1060.0 1361.1L1060.0 1371.1L1054.4 1371.1L1046.7 1362.2L1040.0 1353.3Z"/>
<path fill="#5061aa" fill-rule="evenodd" stroke="#5c51a3" stroke-width="1.8" stroke-linejoin="round" d="M1208.0 1233.3L1214.7 1232.7L1226.7 1232.0L1222.7 1238.7L1220.0 1245.3L1220.7 1253.3L1220.0 1262.7L1214.7 1272.0L1212.7 1280.0L1213.3 1288.0L1210.7 1293.3L1212.7 1301.3L1210.7 1306.7L1214.7 1310.7L1220.0 1313.3L1225.3 1317.3L1226.7 1321.3L1222.7 1325.3L1218.7 1326.7L1214.7 1326.0L1208.0 1328.0L1206.7 1332.0L1202.7 1337.3L1196.0 1340.0L1192.0 1344.0L1188.0 1346.7L1185.3 1350.7L1180.0 1357.3L1176.0 1360.0L1175.3 1364.0L1178.7 1368.0L1177.3 1373.3L1181.3 1377.3L1184.0 1382.7L1186.7 1386.7L1187.3 1392.0L1164.7 1392.0L1166.7 1386.7L1171.3 1382.7L1172.0 1377.3L1168.7 1372.0L1164.0 1366.7L1162.0 1360.0L1166.0 1354.7L1169.3 1350.7L1168.7 1346.7L1172.0 1342.0L1178.7 1340.0L1184.0 1336.0L1186.7 1332.0L1183.3 1327.3L1188.7 1321.3L1194.7 1314.7L1190.7 1310.7L1186.7 1302.7L1183.3 1296.0L1186.7 1292.0L1189.3 1286.7L1190.0 1281.3L1195.3 1276.0L1196.7 1268.0L1200.0 1262.7L1196.7 1257.3L1192.7 1252.0L1196.0 1245.3L1202.7 1238.7Z"/>
<path fill="#5061aa" fill-rule="evenodd" stroke="#5c51a3" stroke-width="1.8" stroke-linejoin="round" d="M1189.1 1212.7L1193.3 1208.3L1198.7 1207.3L1204.0 1208.7L1208.0 1212.7L1203.3 1217.3L1194.0 1217.3Z"/>
<path fill="#5061aa" fill-rule="evenodd" stroke="#5c51a3" stroke-width="1.8" stroke-linejoin="round" d="M1142.9 1366.7L1148.7 1361.1L1154.4 1366.7L1148.7 1372.7Z"/>
<path fill="#5061aa" fill-rule="evenodd" stroke="#5c51a3" stroke-width="1.8" stroke-linejoin="round" d="M1140.0 1373.3L1144.0 1376.0L1146.7 1379.3L1142.7 1384.7L1140.0 1384.0Z"/>
<path fill="#5061aa" fill-rule="evenodd" stroke="#5c51a3" stroke-width="1.8" stroke-linejoin="round" d="M1222.9 1385.3L1228.7 1380.0L1234.0 1385.3L1230.7 1390.7L1226.7 1391.3Z"/>
<path fill="#5061aa" fill-rule="evenodd" stroke="#5c51a3" stroke-width="1.8" stroke-linejoin="round" d="M1222.0 1334.0L1225.3 1330.7L1229.3 1328.7L1233.3 1332.0L1237.3 1334.7L1246.7 1336.0L1252.0 1334.7L1256.0 1332.0L1260.0 1333.3L1268.0 1332.0L1276.0 1332.7L1276.7 1336.0L1271.3 1340.0L1266.7 1344.0L1261.3 1346.7L1260.7 1357.3L1264.0 1364.0L1268.0 1368.0L1270.0 1376.0L1274.0 1378.7L1271.3 1384.0L1268.0 1386.0L1262.7 1382.7L1257.3 1377.3L1249.3 1376.7L1245.3 1372.0L1242.7 1365.3L1236.0 1359.3L1239.3 1354.7L1242.7 1349.3L1242.0 1344.0L1244.0 1340.0L1238.7 1338.7L1232.0 1339.3L1226.7 1337.3Z"/>
<path fill="#5061aa" fill-rule="evenodd" stroke="#5c51a3" stroke-width="1.8" stroke-linejoin="round" d="M1289.3 1333.3L1292.0 1330.0L1296.0 1328.7L1300.0 1332.0L1300.7 1338.7L1298.0 1343.3L1294.7 1346.0L1291.3 1343.3L1289.3 1338.7Z"/>
<path fill="#5061aa" fill-rule="evenodd" stroke="#5c51a3" stroke-width="1.8" stroke-linejoin="round" d="M1237.3 1392.0L1241.3 1388.0L1246.7 1386.0L1252.0 1388.0L1254.7 1392.0Z"/>
<path fill="#5061aa" fill-rule="evenodd" stroke="#5c51a3" stroke-width="1.8" stroke-linejoin="round" d="M1282.0 1385.3L1286.7 1381.3L1292.0 1382.0L1297.3 1378.7L1302.0 1374.0L1306.7 1376.7L1312.0 1378.7L1318.7 1381.3L1322.0 1386.7L1321.3 1392.0L1285.3 1392.0Z"/>
<path fill="#5061aa" fill-rule="evenodd" stroke="#5c51a3" stroke-width="1.8" stroke-linejoin="round" d="M1390.2 1187.2L1392.0 1184.2L1395.6 1183.0L1400.4 1186.0L1404.0 1189.6L1406.4 1193.2L1404.0 1196.8L1399.8 1196.8L1395.6 1194.4L1392.0 1191.4Z"/>
<path fill="#5061aa" fill-rule="evenodd" stroke="#5c51a3" stroke-width="1.8" stroke-linejoin="round" d="M1383.4 1250.8L1388.4 1245.4L1393.8 1250.8L1388.6 1256.2Z"/>
<path fill="#5061aa" fill-rule="evenodd" stroke="#5c51a3" stroke-width="1.8" stroke-linejoin="round" d="M1408.8 1276.0L1412.4 1271.8L1417.2 1270.0L1430.4 1270.6L1430.4 1289.2L1422.0 1294.6L1414.8 1288.0L1409.4 1283.2Z"/>
<path fill="#5061aa" fill-rule="evenodd" stroke="#5c51a3" stroke-width="1.8" stroke-linejoin="round" d="M1120.0 1373.3L1122.2 1370.6L1127.8 1369.1L1135.6 1370.0L1141.1 1373.3L1146.1 1377.8L1146.7 1380.6L1142.8 1384.4L1134.4 1382.8L1125.6 1381.7L1120.6 1378.9Z"/>
<path fill="#5061aa" fill-rule="evenodd" stroke="#5c51a3" stroke-width="1.8" stroke-linejoin="round" d="M1143.1 1366.4L1148.3 1360.9L1154.7 1366.4L1148.9 1372.4Z"/>
<path fill="#5061aa" fill-rule="evenodd" stroke="#5c51a3" stroke-width="1.8" stroke-linejoin="round" d="M1336.8 1392.0L1340.4 1386.4L1348.4 1380.0L1354.8 1385.6L1354.8 1392.0Z"/>
<path fill="#5061aa" fill-rule="evenodd" stroke="#5c51a3" stroke-width="1.8" stroke-linejoin="round" d="M1382.4 1379.6L1388.4 1373.2L1394.0 1373.2L1395.6 1370.4L1396.4 1364.8L1396.0 1359.2L1401.6 1354.0L1406.0 1357.6L1409.2 1361.6L1414.0 1366.0L1411.6 1371.2L1408.4 1374.4L1403.6 1375.6L1401.2 1377.2L1402.0 1380.0L1407.6 1384.8L1407.6 1392.0L1390.0 1392.0L1388.8 1385.6Z"/>
<path fill="#5061aa" fill-rule="evenodd" stroke="#5c51a3" stroke-width="1.8" stroke-linejoin="round" d="M1424.0 1366.0L1428.0 1361.6L1430.8 1361.6L1430.8 1371.2L1427.2 1370.4Z"/>
<path fill="#5061aa" fill-rule="evenodd" stroke="#5c51a3" stroke-width="1.8" stroke-linejoin="round" d="M1422.0 1383.2L1423.2 1378.8L1428.0 1374.4L1430.8 1374.4L1430.8 1392.0L1427.2 1390.0L1422.4 1385.2Z"/>
<g fill="#3880b9">
<path d="M834.0 669.3L837.3 667.7L842.7 668.0L844.0 670.0L841.3 672.0L836.0 673.3L834.0 671.7ZM855.0 675.7L857.3 675.0L862.7 676.3L860.0 678.0L856.0 679.3ZM846.0 682.0L849.3 680.8L854.7 682.0L853.3 684.0L848.7 685.7ZM885.0 665.3L886.7 662.3L889.3 662.7L890.0 673.3L894.7 674.7L898.7 678.0L901.0 682.7L896.7 684.0L892.0 681.3L888.7 676.0L886.0 671.3ZM901.0 685.3L903.0 684.0L903.0 689.3L901.0 689.3ZM847.3 705.7L850.0 705.0L854.7 706.0L853.3 708.0L849.3 710.7L848.0 708.7ZM866.0 712.3L868.7 709.0L872.0 712.7L869.3 714.7L866.7 714.3ZM906.7 670.0L909.3 670.0L908.0 671.2ZM1050.0 702.7L1052.7 698.7L1056.7 698.7L1060.0 702.0L1060.0 706.7L1056.7 710.0L1053.3 708.7L1050.7 706.7ZM1051.3 718.7L1054.0 715.3L1058.7 716.0L1064.0 720.0L1068.0 724.0L1072.7 726.0L1076.0 729.3L1078.0 734.7L1078.7 741.3L1082.7 745.3L1086.7 750.7L1092.0 755.3L1089.3 760.0L1085.3 764.7L1081.3 767.3L1077.3 763.3L1073.3 760.7L1069.3 761.3L1065.3 757.3L1062.7 752.0L1058.7 748.0L1056.0 742.7L1052.7 738.7L1050.9 733.3L1050.4 725.3ZM1077.3 798.7L1080.7 792.0L1085.3 790.7L1090.0 791.3L1092.7 797.3L1090.0 804.0L1089.3 808.0L1084.0 808.0L1080.0 804.0ZM1086.7 835.3L1090.7 829.3L1092.7 824.7L1100.0 825.3L1105.3 830.7L1113.3 840.0L1117.3 848.0L1122.7 857.3L1126.7 865.3L1130.7 873.3L1132.0 880.0L1092.7 880.0L1092.0 874.7L1089.3 869.3L1090.7 864.7L1094.0 861.3L1092.7 856.0L1088.0 850.7L1090.0 846.7L1094.7 842.0L1092.0 838.7ZM1128.0 877.3L1130.0 886.7L1132.7 897.3L1134.7 905.3L1137.3 913.3L1140.7 920.0L1143.3 925.3L1148.0 929.3L1148.7 934.7L1145.3 937.3L1146.0 941.3L1150.0 945.3L1148.7 949.3L1144.7 945.3L1140.7 941.3L1141.3 935.3L1137.3 929.3L1132.7 924.0L1126.7 917.3L1121.3 912.7L1118.7 906.7L1116.0 901.3L1112.0 896.7L1106.7 891.3L1101.3 886.7L1096.0 881.3L1093.3 877.3ZM1122.7 988.0L1126.7 986.7L1136.0 986.0L1140.0 992.0L1142.7 998.7L1145.3 1005.3L1144.0 1010.7L1138.7 1012.0L1133.3 1010.7L1128.0 1009.3L1128.0 1001.3L1125.3 994.7ZM1168.0 980.0L1172.0 976.0L1177.3 973.3L1184.0 972.0L1189.3 976.0L1193.3 982.7L1197.3 989.3L1201.3 996.0L1206.0 1004.0L1210.7 1013.3L1215.3 1021.3L1217.3 1028.0L1216.0 1040.0L1212.0 1049.3L1210.7 1060.0L1190.7 1060.0L1189.3 1052.0L1186.7 1046.7L1184.0 1040.0L1180.0 1036.0L1173.3 1032.0L1169.3 1026.7L1166.7 1020.0L1164.7 1013.3L1161.3 1006.7L1158.7 1000.0L1160.0 993.3L1162.7 988.0L1166.0 984.0ZM1307.2 910.4L1312.0 904.8L1316.8 901.6L1321.6 902.4L1326.4 906.4L1333.6 902.4L1336.0 904.0L1332.8 908.0L1333.6 928.0L1328.8 933.6L1324.0 928.0L1324.0 911.2L1320.0 908.0L1315.2 908.0L1312.0 911.2L1312.8 921.6L1310.4 926.4L1315.2 927.2L1319.2 933.6L1319.2 940.0L1315.2 943.2L1309.6 942.4L1306.9 937.6L1308.8 932.0L1306.4 923.2ZM1339.2 929.6L1342.4 926.4L1344.8 929.6L1342.4 933.6ZM1346.4 923.2L1348.8 920.8L1351.2 923.2L1348.8 925.6ZM1344.8 979.2L1348.8 975.7L1352.0 979.2L1348.8 982.7ZM1283.2 992.8L1287.2 985.6L1294.4 984.0L1297.9 988.0L1296.8 995.2L1290.4 999.2L1284.8 997.6ZM1267.2 1002.4L1271.2 1000.0L1275.2 1004.0L1272.8 1007.2L1268.0 1005.6ZM1251.2 1016.0L1255.2 1014.4L1257.6 1016.8L1253.6 1018.4ZM1292.8 1054.4L1295.5 1051.2L1297.9 1054.4L1295.5 1057.3ZM1212.0 1053.3L1213.3 1060.0L1212.7 1069.3L1213.3 1078.7L1217.3 1086.7L1218.7 1096.0L1221.3 1105.3L1224.0 1112.0L1226.7 1120.0L1227.3 1130.7L1226.0 1140.0L1226.7 1150.7L1225.3 1160.0L1226.0 1168.0L1222.7 1173.3L1220.0 1170.7L1216.0 1164.0L1209.3 1162.7L1205.3 1157.3L1204.0 1152.0L1205.3 1145.3L1204.7 1138.7L1198.7 1132.0L1196.0 1126.7L1194.7 1120.0L1196.0 1114.7L1192.0 1112.0L1188.0 1105.3L1186.0 1098.7L1186.7 1090.7L1189.3 1086.7L1186.7 1082.7L1182.7 1085.3L1178.7 1081.3L1174.7 1077.3L1180.0 1076.7L1185.3 1074.7L1186.7 1066.7L1185.3 1058.7L1182.7 1053.3ZM1152.7 1048.0L1157.3 1049.3L1160.0 1056.0L1166.7 1062.7L1172.0 1068.0L1173.3 1072.0L1170.7 1073.3L1164.0 1068.0L1158.7 1064.0L1156.0 1057.3ZM1220.7 1184.0L1224.0 1182.7L1226.0 1188.0L1224.7 1193.3L1222.0 1194.7L1220.7 1189.3ZM512.0 1123.0L517.0 1122.4L516.0 1125.0L512.4 1125.0ZM533.0 1123.0L537.0 1122.0L536.0 1124.4ZM521.0 1192.0L528.0 1190.0L537.0 1191.0L538.0 1194.0L530.0 1195.6L523.0 1195.0ZM541.0 1273.0L548.0 1268.0L560.0 1267.0L568.0 1271.0L578.0 1280.0L574.0 1283.0L560.0 1283.0L550.0 1281.0L544.0 1278.0ZM530.0 1304.0L536.0 1300.0L542.0 1300.0L547.0 1306.0L540.0 1310.0L534.0 1309.0ZM512.0 1307.0L516.0 1306.4L515.0 1309.0ZM487.6 1308.0L490.0 1307.0L489.6 1309.6ZM692.0 1180.0L698.0 1175.0L710.0 1173.0L720.0 1176.0L725.0 1182.0L722.0 1186.0L712.0 1185.0L700.0 1184.0L694.0 1184.0ZM738.0 1200.0L743.0 1198.0L750.0 1205.0L758.0 1211.0L754.0 1214.0L746.0 1210.0L740.0 1206.0ZM760.0 1217.0L768.0 1215.0L778.0 1218.0L788.0 1227.0L797.0 1234.0L792.0 1235.0L782.0 1228.0L772.0 1222.0L763.0 1220.0ZM680.4 1184.0L683.0 1182.0L685.0 1188.0L682.0 1190.0ZM640.0 1211.0L648.0 1208.0L656.0 1205.0L664.0 1207.0L667.0 1212.0L664.0 1216.0L654.0 1215.0L644.0 1214.0ZM714.0 1220.0L719.0 1217.0L725.0 1219.0L722.0 1223.0L717.0 1223.0ZM673.0 1250.0L676.0 1247.0L682.0 1250.0L690.0 1258.0L698.0 1266.0L704.0 1273.0L700.0 1275.0L692.0 1268.0L684.0 1260.0L677.0 1255.0ZM716.0 1266.0L722.0 1263.0L728.0 1267.0L738.0 1273.0L748.0 1276.0L756.0 1280.0L758.0 1288.0L752.0 1286.0L744.0 1280.0L734.0 1277.0L724.0 1273.0ZM628.0 1272.0L636.0 1273.0L646.0 1277.0L656.0 1284.0L666.0 1283.0L676.0 1285.0L688.0 1294.0L700.0 1299.0L705.0 1308.0L712.0 1318.0L720.0 1330.0L710.0 1330.0L704.0 1318.0L696.0 1309.0L686.0 1302.0L676.0 1294.0L664.0 1291.0L652.0 1290.0L642.0 1284.0L633.0 1278.0ZM585.0 1295.0L592.0 1293.0L598.0 1294.0L606.0 1303.0L614.0 1310.0L620.0 1314.0L616.0 1316.0L608.0 1311.0L600.0 1305.0L592.0 1300.0ZM787.0 1276.0L790.0 1274.4L791.6 1277.0L788.4 1278.4ZM483.3 1347.8L486.7 1343.3L493.3 1345.6L494.4 1351.1L488.9 1353.3ZM511.1 1345.6L515.6 1343.3L516.7 1347.8ZM531.1 1335.6L546.7 1331.1L560.0 1326.7L568.9 1325.6L571.1 1330.0L557.8 1335.6L544.4 1340.0L533.3 1342.2ZM622.2 1332.2L635.6 1337.8L646.7 1343.3L655.6 1348.9L648.9 1348.9L635.6 1342.2L624.4 1336.7ZM502.2 1380.0L511.1 1376.7L517.8 1380.0L515.6 1387.8L506.7 1388.9ZM531.1 1381.1L546.7 1378.9L562.2 1380.0L560.0 1386.7L542.2 1388.9L533.3 1387.8ZM577.8 1357.8L583.3 1352.2L591.1 1357.8L597.8 1366.7L591.1 1373.3L582.2 1371.1ZM660.0 1384.4L671.1 1380.0L680.0 1382.2L680.0 1393.3L662.2 1393.3ZM468.9 1384.4L475.6 1383.3L477.8 1387.8L470.0 1388.9ZM757.8 1373.3L766.7 1368.9L777.8 1371.1L788.9 1377.8L797.8 1384.4L804.4 1392.2L775.6 1392.2L766.7 1383.3ZM712.2 1327.8L716.7 1324.4L718.9 1328.9L715.6 1332.2ZM746.7 1338.9L750.0 1337.8L750.0 1342.2ZM673.3 1357.8L680.0 1351.1L688.9 1350.0L698.9 1357.8L708.9 1366.7L712.2 1375.6L717.8 1382.2L728.9 1392.2L704.4 1392.2L697.8 1380.0L688.9 1371.1L680.0 1364.4ZM840.0 1353.3L848.9 1352.2L860.0 1358.9L873.3 1366.7L886.7 1375.6L900.0 1383.3L906.7 1392.2L891.1 1392.2L877.8 1381.1L864.4 1371.1L851.1 1363.3ZM1200.7 1245.3L1206.7 1240.0L1212.0 1238.7L1214.7 1244.0L1214.0 1253.3L1212.7 1262.7L1209.3 1269.3L1206.7 1277.3L1205.3 1285.3L1204.0 1293.3L1202.7 1302.7L1204.0 1310.7L1209.3 1316.0L1205.3 1320.0L1200.0 1324.0L1196.0 1328.0L1193.3 1325.3L1197.3 1320.0L1198.7 1314.7L1194.7 1309.3L1192.0 1302.7L1189.3 1296.0L1193.3 1290.7L1194.7 1284.0L1198.7 1278.7L1201.3 1270.7L1204.0 1262.7L1201.3 1257.3L1198.7 1252.0ZM1172.7 1349.3L1176.0 1345.3L1180.0 1346.7L1180.7 1352.0L1177.3 1354.7L1173.3 1353.3ZM1166.0 1360.0L1168.7 1357.3L1171.3 1360.0L1169.3 1364.0ZM1173.3 1385.3L1176.0 1383.3L1178.0 1386.0L1175.3 1388.0ZM1186.7 1329.3L1193.3 1328.0L1196.0 1332.0L1190.7 1334.7ZM1246.7 1345.3L1250.7 1340.0L1257.3 1338.7L1262.7 1340.0L1258.7 1345.3L1257.3 1356.0L1260.0 1364.0L1264.0 1370.7L1266.7 1377.3L1272.0 1380.7L1268.0 1383.3L1262.7 1378.7L1257.3 1373.3L1250.7 1372.0L1246.7 1365.3L1242.7 1360.0L1245.3 1353.3ZM1297.3 1386.7L1302.0 1382.7L1306.7 1382.0L1313.3 1384.0L1318.7 1388.0L1318.7 1392.0L1305.3 1392.0ZM1332.0 1214.8L1334.4 1206.4L1344.0 1199.2L1346.4 1187.2L1351.2 1184.8L1356.0 1192.0L1353.6 1196.8L1351.2 1204.0L1356.0 1208.8L1365.6 1208.8L1369.2 1213.6L1368.0 1222.0L1365.6 1230.4L1364.4 1240.0L1365.6 1247.2L1369.2 1252.0L1371.6 1258.0L1365.6 1259.2L1360.8 1254.4L1358.4 1248.4L1352.4 1243.6L1346.4 1241.2L1339.2 1241.2L1333.2 1240.0L1331.4 1234.0L1332.0 1225.6ZM1328.4 1250.8L1332.0 1249.0L1341.6 1249.0L1344.0 1251.4L1340.4 1254.4L1333.2 1255.0ZM1325.4 1187.2L1328.4 1185.4L1329.6 1192.0L1327.2 1194.4ZM1325.4 1172.8L1328.4 1169.2L1329.6 1175.2L1327.2 1176.4ZM1327.2 1261.6L1329.0 1259.8L1330.2 1263.4L1328.4 1264.6ZM1413.0 1277.2L1416.0 1274.2L1420.8 1274.8L1423.2 1279.6L1420.8 1285.6L1416.0 1284.4L1413.4 1281.4ZM1342.0 1392.0L1344.4 1387.2L1348.8 1383.2L1351.6 1386.4L1351.2 1392.0ZM1386.0 1379.6L1389.6 1376.0L1394.8 1376.4L1399.6 1380.8L1404.4 1385.6L1404.4 1392.0L1393.2 1392.0L1392.4 1385.6ZM1400.4 1358.8L1402.4 1358.0L1403.2 1360.0L1401.6 1363.2ZM1426.0 1384.0L1428.0 1380.8L1430.8 1380.8L1430.8 1388.8L1427.2 1387.2Z"/>
<path fill-rule="evenodd" d="M1385.6 1072.0L1388.8 1062.4L1394.4 1054.4L1400.0 1052.8L1403.2 1059.2L1408.0 1059.2L1412.8 1065.6L1416.8 1072.0L1422.4 1075.2L1430.4 1078.4L1430.4 1147.2L1422.4 1148.0L1414.4 1150.4L1406.4 1148.8L1401.6 1142.4L1395.2 1137.6L1389.6 1132.0L1392.0 1127.2L1396.8 1123.2L1400.0 1116.0L1396.0 1107.2L1393.6 1099.2L1388.8 1092.8L1385.6 1086.4L1384.8 1078.4ZM1407.7 1129.6L1416.5 1121.9L1417.3 1130.2L1413.6 1132.5Z"/>
</g>
<g fill="#60bba8">
<path d="M1052.0 722.7L1054.0 718.7L1058.0 718.7L1062.7 722.7L1066.7 726.7L1070.7 729.3L1071.3 734.7L1072.7 738.7L1075.3 744.0L1075.7 749.3L1070.0 752.0L1066.7 749.3L1061.3 746.0L1058.7 741.3L1060.7 737.3L1056.0 735.3L1052.7 732.0L1051.7 726.7ZM1098.7 872.0L1101.3 864.0L1105.3 858.7L1108.7 856.0L1114.7 857.3L1120.0 861.3L1123.3 866.7L1125.3 873.3L1126.7 880.0L1100.0 880.0ZM1125.3 877.3L1126.7 888.0L1129.3 896.0L1132.0 904.0L1134.7 912.0L1135.3 917.3L1129.3 914.7L1125.3 910.7L1121.3 905.3L1117.3 898.7L1113.3 892.0L1108.0 888.0L1102.7 882.7L1100.0 877.3ZM1182.0 1006.7L1185.3 1001.3L1190.7 998.7L1194.7 1001.3L1198.7 1006.7L1202.7 1012.0L1205.3 1016.0L1204.7 1024.0L1200.0 1029.3L1192.0 1032.0L1189.3 1036.0L1185.3 1032.0L1181.3 1028.0L1177.3 1022.7L1178.7 1016.0ZM1202.0 1038.7L1205.3 1034.0L1209.3 1033.3L1212.0 1038.7L1210.7 1044.7L1206.0 1046.0L1202.7 1042.7ZM1169.3 1012.0L1172.7 1013.3L1171.3 1017.3ZM1193.3 1047.3L1196.0 1046.7L1195.3 1049.3ZM1327.2 910.4L1329.9 910.4L1330.4 926.4L1331.2 930.4L1328.5 932.8L1326.1 929.6L1327.2 924.8ZM1312.0 934.4L1314.9 930.9L1317.6 934.4L1314.9 937.9ZM1386.4 1081.6L1388.8 1076.8L1394.4 1076.0L1400.0 1078.4L1405.6 1084.0L1411.2 1091.2L1408.0 1095.2L1401.6 1092.8L1394.4 1089.6L1388.8 1088.0ZM1404.8 1112.0L1408.0 1108.8L1411.2 1111.2L1409.9 1116.8L1407.2 1116.0ZM1400.0 1142.4L1402.9 1137.6L1406.4 1144.0ZM1186.7 1092.7L1188.7 1089.3L1192.0 1086.7L1198.7 1085.3L1204.0 1092.0L1208.7 1096.0L1210.0 1100.0L1206.7 1105.3L1202.0 1110.7L1198.0 1106.7L1193.3 1102.7L1190.7 1097.3ZM1188.0 1073.3L1192.0 1072.0L1196.0 1076.0L1200.0 1078.0L1204.0 1081.3L1205.3 1086.7L1201.3 1085.3L1196.0 1082.7L1191.3 1080.0L1189.1 1077.3ZM1202.0 1040.0L1210.7 1040.0L1211.3 1044.0L1208.7 1046.7L1204.7 1044.0ZM1193.3 1047.3L1195.7 1046.9L1194.9 1049.1ZM1335.8 1228.6L1338.0 1224.4L1344.0 1221.4L1351.2 1220.2L1356.0 1219.0L1359.0 1223.2L1359.6 1229.2L1356.0 1235.2L1348.8 1238.8L1342.8 1237.0L1338.0 1234.0Z"/>
</g>
<g fill="#bae3a1">
<path d="M1109.3 878.7L1113.3 874.0L1116.0 872.7L1121.3 874.0L1125.3 880.0ZM1109.3 880.0L1112.0 875.3L1116.0 872.7L1121.3 873.3L1126.0 876.7L1127.3 882.7L1126.0 890.0L1122.0 894.7L1118.0 892.7L1114.0 890.0L1110.7 885.3ZM1340.6 1231.6L1344.0 1228.6L1348.2 1226.8L1351.8 1229.8L1353.0 1232.2L1349.4 1235.2L1345.8 1235.8L1342.8 1234.0Z"/>
</g>
<g fill="#f5fbaf">
<path d="M1112.0 880.0L1115.3 876.0L1120.0 876.7L1122.7 880.0ZM1110.7 880.7L1113.3 876.0L1116.7 874.0L1121.1 874.4L1125.1 877.3L1126.0 882.7L1124.7 888.7L1121.6 892.0L1118.0 890.4L1114.7 887.7L1112.0 884.7ZM1345.8 1231.6L1348.2 1229.8L1350.2 1231.8L1348.4 1233.8Z"/>
</g>
<g fill="#fee18d">
<path d="M1113.3 880.7L1115.3 877.6L1118.7 876.7L1122.7 878.0L1124.3 881.3L1123.7 886.0L1121.3 888.7L1118.0 887.3L1114.9 884.7Z"/>
</g>
</g>
<g stroke="#000" stroke-opacity="0.075" stroke-width="1.7" fill="none">
<path d="M364.9 166.5V1392.3"/>
<path d="M528.9 166.5V1392.3"/>
<path d="M692.8 166.5V1392.3"/>
<path d="M856.8 166.5V1392.3"/>
<path d="M1020.8 166.5V1392.3"/>
<path d="M1184.8 166.5V1392.3"/>
<path d="M1348.7 166.5V1392.3"/>
<path d="M289.5 328.9H1429.5"/>
<path d="M289.5 492.9H1429.5"/>
<path d="M289.5 656.9H1429.5"/>
<path d="M289.5 820.9H1429.5"/>
<path d="M289.5 984.9H1429.5"/>
<path d="M289.5 1148.9H1429.5"/>
<path d="M289.5 1312.9H1429.5"/>
</g>
<g fill="none" stroke="#000" stroke-width="2.2" stroke-linejoin="round" stroke-linecap="round">
<path d="M290.4 196.4L295.6 195.6L300.0 198.0L304.4 202.4L304.0 207.2L309.6 207.6L313.0 211.6L316.0 217.0L321.0 222.4L324.4 225.6L326.4 231.6L331.6 233.6L336.0 233.6L338.4 229.0L343.0 227.6L348.0 227.0L354.4 224.4L359.6 223.0L365.0 225.0L372.0 225.6L374.0 229.6L378.0 230.4L376.4 235.0L379.6 240.0L383.6 244.0L382.4 251.0L385.0 255.0L391.0 257.6L396.0 258.4L400.0 262.4L402.4 268.0L408.0 269.6L414.0 271.0L420.0 275.0L421.0 279.6L426.0 280.4L431.0 284.0L436.0 284.4L441.0 284.0L444.0 281.0L447.6 279.6L449.6 276.4L453.0 276.4L456.0 278.4L460.6 280.0L460.0 285.0L457.0 287.0L456.4 291.0L454.0 293.6L454.0 299.0L455.0 303.6L459.0 304.4L462.4 303.6L467.0 306.4L471.0 306.0L475.0 307.0L479.0 305.0L482.4 304.0L487.0 305.0L493.0 305.6L497.6 307.6L500.0 304.4L503.0 302.0L504.0 307.0L508.0 311.0L513.0 313.6L517.6 316.4L520.0 322.0L523.0 327.0L525.6 331.0L526.4 337.0L530.0 337.6L535.6 337.0L538.4 334.4L536.4 330.0L537.0 324.4L535.0 321.6L539.0 318.0L543.0 316.0L544.4 319.0L544.0 324.0L547.0 329.0L551.0 330.4L556.0 333.6L560.0 334.0L564.0 336.4L569.0 334.4L571.6 331.0L573.0 325.0L574.0 321.0L577.0 320.0L580.0 321.6M290.4 375.0L295.0 375.0L300.0 377.6L304.4 383.0L308.0 383.6L311.6 380.0L312.0 375.0L315.0 372.4L323.0 372.0L332.0 374.0L340.0 377.0L349.0 381.0L354.0 382.4L354.4 379.0L351.6 376.0L357.0 374.4L366.0 374.4L370.4 369.6L374.0 369.0L379.0 375.0L384.0 375.6L389.0 380.0L400.0 382.0L410.0 383.6L414.4 385.0L418.0 390.0L419.6 397.0L418.0 403.0L416.0 407.6L420.0 409.6L427.0 411.0L431.6 410.0L435.6 412.4L441.0 414.4L445.0 420.0L450.0 423.6L454.0 421.6L458.0 421.6L461.0 425.0L461.6 429.0L465.0 431.6L472.0 432.4L477.0 430.0L480.0 428.0L484.0 427.6L492.0 424.4L496.4 423.0L501.6 425.0L505.0 428.0L505.6 436.0L508.0 440.4L513.0 443.6L516.0 446.0L520.0 443.6L525.0 440.0L530.0 439.0L535.6 441.0L540.0 443.0L546.0 444.0L551.6 443.0L557.0 445.0L564.0 448.0L572.0 452.0L580.0 455.6M580.0 321.6L584.0 320.0L588.0 321.6L589.0 326.0L594.0 327.6L599.0 328.0L603.0 332.0L610.0 333.0L615.0 337.0L620.0 341.6L624.4 343.0L632.0 343.0L637.0 343.6L640.0 341.0L642.4 342.0L642.0 345.0L649.0 343.0L656.0 342.4L659.0 344.4L664.0 343.6L670.0 344.4L674.0 342.0L678.4 337.0L686.0 337.6L693.0 338.4L700.0 338.0L706.0 341.0M706.0 341.0L701.6 338.0L701.0 334.4L705.0 333.0L716.0 331.6L724.0 330.0L730.0 326.4L735.0 325.6L739.0 322.0L742.4 320.0L746.0 323.0L752.0 324.0L757.0 326.4L760.0 329.6L761.6 336.0L763.0 341.0L761.6 350.0L759.0 358.0L754.4 366.0L755.0 372.4L757.6 378.0L763.0 382.4L767.0 384.4L775.0 384.4L773.0 380.0L771.6 375.0L773.0 371.6L773.0 368.0L777.0 363.0L781.0 360.0L784.4 359.6L789.6 352.0L794.0 344.0L801.0 340.0L806.0 333.6L813.0 325.0L822.0 318.0L830.0 315.6L837.0 314.0L840.0 309.6L848.0 303.6L856.0 302.4L864.0 300.4L871.0 301.0L875.6 299.0L879.0 301.6L880.0 306.0M767.0 384.4L765.0 387.0L757.0 391.0L753.0 398.0L759.0 401.0L762.0 405.0L763.0 415.0L765.0 413.0L769.0 417.0L774.0 417.6L780.0 422.0L784.0 426.0L791.0 426.4L797.0 423.6L803.0 423.0L810.0 426.0L818.0 427.0L824.4 429.0L826.0 434.4L831.0 433.6L838.0 435.6L843.0 435.6L844.0 433.0L849.0 433.0L856.0 432.0L864.0 431.6L869.0 429.6L871.0 425.0L874.0 423.0L880.0 422.4M706.0 341.0L706.4 346.0L704.0 353.0L702.4 359.0L698.0 366.0L695.0 371.0L696.4 375.6L695.0 380.0L695.6 383.6L693.6 388.0L692.0 394.0L691.0 402.0L694.4 406.4L699.0 411.0L703.0 418.0L706.0 424.0L707.0 432.0L705.6 439.0L703.0 445.0L700.0 451.0L699.6 457.0L698.0 460.0M880.0 306.0L883.0 308.0L886.0 304.0L891.0 305.6L897.0 307.0L901.0 308.4L905.6 309.6L906.0 313.0L901.0 316.0L897.0 320.0L897.0 322.4L905.0 323.0L911.0 321.0L916.0 323.6L923.0 325.0L931.0 326.0L938.0 331.0L944.0 331.6L949.0 329.0L955.0 323.0L963.0 321.6L966.0 325.0L972.0 328.4L978.0 330.4L986.0 332.0L991.0 334.0L993.0 337.0L991.6 341.0L985.0 341.6L986.0 343.6L991.0 345.0L991.6 349.0L989.0 353.0L986.0 358.0L987.0 364.0L990.0 369.0L995.0 372.0L1004.0 373.6L1012.0 372.4L1020.0 373.0L1024.0 377.0L1026.0 382.0L1029.0 387.0L1024.4 391.0L1022.0 395.0L1020.0 400.0L1021.0 405.0L1025.6 409.0L1028.4 416.0L1027.0 421.0L1022.0 423.0L1017.0 423.0L1013.6 420.0L1011.0 422.4L1011.6 427.0L1009.6 426.0L1009.0 423.0L1005.0 422.4L1000.0 425.0L995.0 427.0L989.0 426.0L982.0 427.6L979.0 424.0L977.0 421.0L972.0 421.0L969.0 425.0L966.0 429.0L962.0 430.0L957.0 427.0L944.0 427.0L939.0 429.0L916.0 430.0L906.0 429.0L898.0 425.6L891.0 421.0L887.0 419.0L883.0 421.0L880.0 422.4M991.6 341.0L996.0 343.0L1001.0 345.0L1008.0 345.0L1011.0 351.0L1017.0 351.6L1020.0 348.4L1027.0 347.6L1033.0 343.6L1041.0 340.0L1043.0 343.0L1045.6 347.0L1048.0 343.0L1051.0 344.4L1054.0 341.0L1057.0 343.6L1061.0 342.0L1068.0 341.0L1075.0 337.0L1079.0 334.0L1081.6 330.0L1079.0 325.6L1074.0 324.0L1075.0 320.4L1079.0 316.4L1085.0 313.0L1088.0 314.4L1092.0 312.0L1097.0 308.0L1106.0 304.4L1115.0 302.0L1121.0 300.4L1121.6 297.0L1119.0 293.6L1123.0 290.0L1128.0 285.0L1129.6 279.6L1135.0 276.4L1140.0 274.0L1148.0 273.6L1154.0 274.0L1160.0 272.0L1168.0 273.0L1175.0 271.0L1180.0 273.0M1180.0 273.0L1183.0 268.0L1184.4 264.0L1185.6 259.0L1192.0 256.4L1197.0 255.0L1200.4 252.4L1205.6 252.4L1210.0 249.0L1214.4 245.0L1211.0 241.6L1208.0 238.4L1209.0 235.0L1213.0 234.0L1217.0 230.0L1223.0 229.0L1228.0 228.4L1232.0 224.0L1235.0 220.4L1239.0 220.4L1243.0 223.0L1246.0 226.0L1248.4 229.6L1248.0 233.0L1254.0 233.0L1261.0 233.6L1268.0 234.4L1275.0 237.6L1284.0 239.6L1286.0 241.6L1293.0 243.0L1298.0 243.6L1304.0 242.4L1308.0 240.4L1310.0 235.0L1309.6 230.4L1312.4 229.0L1313.6 226.4L1320.0 227.6L1326.0 229.0L1329.0 224.0L1328.4 219.0L1333.0 218.0L1338.0 220.0L1346.0 217.6L1354.0 216.4L1361.0 216.4L1363.0 221.0L1365.6 225.0L1370.0 227.0L1375.0 225.0L1378.0 224.0L1380.0 226.0L1378.0 230.0L1376.0 233.0L1369.0 234.4L1364.0 236.4L1364.0 244.0L1365.6 251.6L1369.0 251.6L1374.0 247.0L1379.6 244.0L1383.6 245.6L1387.0 248.0L1389.0 251.0L1391.0 254.0L1393.0 258.0L1396.4 262.0L1398.0 266.0L1399.0 270.4L1391.0 272.4L1390.4 277.0L1384.0 283.0L1378.0 289.0L1374.0 294.4L1379.6 298.0L1387.0 295.6L1396.0 292.4L1408.0 293.0L1418.0 297.6L1429.0 302.0L1434.0 304.0M1434.0 351.0L1429.0 354.0L1423.0 357.0L1420.0 361.0L1421.6 366.0L1421.0 372.0L1424.0 378.0L1429.0 383.0L1434.0 388.0M1272.4 460.0L1270.0 454.0L1275.0 450.0L1278.0 443.0L1284.4 438.0L1288.0 440.0L1300.0 436.0L1303.6 432.0L1308.0 427.0L1315.0 426.0L1319.0 421.0L1325.0 419.6L1331.0 411.6L1338.0 409.6L1343.0 406.4L1348.0 398.4L1352.0 394.0L1360.0 390.0L1370.0 388.0L1384.0 386.4L1392.0 387.0L1397.0 382.0L1402.0 383.0L1407.0 381.0L1414.0 385.0L1420.0 392.0L1419.0 396.0L1429.0 400.0L1434.0 402.0M580.0 455.0L584.0 457.0L588.0 459.0L590.0 456.4L595.0 457.6L599.0 454.4L602.0 451.0L608.0 449.0L613.0 446.0L615.0 445.6L616.0 451.0L618.0 457.0L622.0 460.0L629.0 459.6L632.4 462.4L637.0 464.4L640.0 460.0L646.0 457.6L650.0 458.0L655.0 460.0L660.0 461.0L665.0 459.0L668.0 457.6L673.0 456.0L676.0 457.0L679.0 455.0L683.0 455.0L686.0 458.4L691.0 462.4L694.0 462.4L698.0 459.0L700.0 453.0L702.0 446.0L705.0 440.0M718.0 454.0L721.0 448.0L723.0 442.4L725.6 442.0L726.0 447.0L732.0 451.0L738.0 454.0L744.0 457.0L747.6 460.0L749.0 464.0L752.0 466.0L746.0 470.4L754.0 469.0L757.0 472.0L761.0 473.6L765.0 470.0L769.0 471.0L775.0 473.0L779.0 471.0L777.0 468.0L772.0 465.0L767.0 460.0L770.0 457.0L775.0 460.0L780.0 463.6L783.6 466.0L782.4 469.0L784.0 475.0L786.0 480.0L792.0 484.0L797.0 488.0L803.0 493.0L807.0 492.0L812.0 493.6L816.0 493.6L819.0 496.4L821.0 493.6L822.4 489.0L825.0 486.4L822.0 483.0L825.0 480.0L825.6 475.6L829.0 475.0L830.0 479.0L833.6 481.0L836.0 486.0L838.4 490.0L841.0 494.0L843.6 495.0L843.0 499.0L840.0 506.0L842.4 515.0L843.6 522.0L842.0 530.0L841.0 540.0L840.4 546.0L842.4 551.0L848.0 550.4L856.0 553.0L866.0 556.4L874.0 558.4L880.0 559.6M718.0 454.0L720.0 456.0L728.0 457.0L733.0 459.0L734.0 463.6L728.0 466.0L724.0 468.0L720.0 473.0L718.0 476.0L712.0 478.0L707.0 481.0L705.0 485.0L706.0 489.0L703.0 492.4L700.0 498.0L699.6 504.0L702.0 509.0L706.0 511.0L711.0 509.0L716.0 512.0L722.0 517.0L728.0 522.0L729.0 527.0L734.0 531.0L739.0 534.0L744.0 535.6L748.0 537.0L752.0 534.0L756.0 533.0L760.0 538.0L759.6 543.0L763.0 548.0L769.0 550.0L774.0 550.4L772.0 554.4L769.0 556.0L769.0 561.0L762.0 559.6L757.0 562.0L750.0 559.6L740.0 561.6L732.0 559.6L729.0 561.0L729.0 568.0L727.0 574.0L723.0 580.0L718.0 585.0L713.0 583.6L712.0 580.0L708.0 579.0L703.0 582.0L705.0 587.0L700.0 594.0L698.0 598.0L695.0 603.0L699.0 607.0L701.0 614.0L710.0 619.0L720.0 624.0L728.0 629.0L734.0 632.0L740.0 632.4L745.0 633.0L747.0 629.0L752.0 631.0L754.4 635.0L754.4 640.0L750.0 643.0L748.4 648.0L751.0 652.0L752.4 655.0L750.0 657.0L751.0 662.0L747.0 666.0L740.0 669.0L739.6 674.0L738.0 679.0L739.0 685.0L738.0 688.0L742.0 692.0L748.0 697.0L753.0 700.0L756.0 699.0L754.0 706.0L751.0 712.0L749.0 717.0L752.4 720.0L758.0 719.0L766.0 721.0L772.0 722.4L767.0 728.0L763.0 734.0L761.6 740.0M880.0 559.6L888.0 562.0L896.0 561.0L906.0 560.4L917.0 561.6L919.0 560.6L923.0 562.4L932.0 561.6L944.0 559.6L952.0 559.0L958.0 558.4L966.0 561.0L974.0 563.6L979.0 563.6L984.0 561.6L989.0 564.4L994.0 564.0L997.0 561.6L1004.0 561.0L1014.0 560.0L1022.0 560.0L1029.0 561.0L1035.0 564.0L1039.0 566.0L1046.0 569.0L1052.0 573.0L1057.0 577.0L1061.0 581.0L1061.6 584.4L1058.0 587.0L1053.0 588.4L1048.0 586.0L1043.0 583.6L1039.6 584.4L1040.0 592.0L1038.0 600.0L1035.0 610.0L1031.0 617.0L1030.0 623.0L1027.0 626.0L1020.0 627.0L1018.0 630.0L1017.0 627.0L1013.0 629.0L1012.0 637.0L1010.0 643.0L1008.0 644.4L1004.0 642.0L1002.4 638.4L999.6 638.0L999.0 642.4L997.0 645.0L993.0 643.0L991.0 639.6L990.0 646.0L985.0 649.0L977.0 650.0L970.0 649.0L967.0 651.6L966.4 656.4L962.0 659.0L959.0 662.0L957.0 666.0L955.6 673.0L953.6 677.0L950.0 680.0L952.4 683.0L950.4 686.0L951.6 691.0L954.4 696.0L957.0 702.0L960.0 708.0L962.4 711.6L963.0 720.0L965.0 730.0L968.0 733.6L969.0 724.0L971.0 718.4L975.0 720.0L978.0 726.0L981.0 734.0L984.0 740.0M991.0 740.0L998.0 738.0L1003.0 733.6L1004.0 730.0L1001.0 720.0L1003.0 712.0L1008.0 706.0L1013.0 704.0L1016.0 698.0L1016.0 688.0L1014.0 681.0L1015.6 679.0L1019.0 683.0L1022.4 686.0L1027.0 683.0L1031.0 679.0L1034.0 679.0L1037.0 683.0L1040.0 680.0L1042.0 682.0L1043.0 690.0L1046.0 700.0L1049.0 710.0L1051.0 720.0L1050.0 730.0L1051.0 740.0M1180.0 662.0L1169.0 661.6L1164.0 657.6L1156.0 656.0L1149.0 657.0L1143.6 661.0L1140.0 659.6L1136.0 653.6L1133.0 650.0L1130.0 650.0L1128.0 653.6L1129.0 659.0L1132.0 664.0L1134.0 674.0L1137.0 680.0L1139.0 686.0L1138.0 696.0L1136.0 708.0L1135.0 720.0L1132.4 728.0L1127.0 735.0L1123.0 737.6L1119.0 734.0L1115.0 736.0L1114.0 740.0M1290.0 440.0L1282.0 441.0L1278.0 443.0L1276.4 448.0L1271.0 454.0L1273.0 459.0L1271.0 466.0L1271.6 473.0L1275.0 477.0L1274.4 484.0L1280.0 487.6L1278.0 492.4L1272.4 497.0L1268.0 499.6L1267.6 505.0L1269.0 513.0L1265.0 515.6L1261.0 521.0L1256.0 527.6L1254.0 529.0L1249.0 534.4L1243.0 535.6L1238.0 538.4L1234.0 544.0L1232.0 549.6L1230.0 555.6L1232.4 560.0L1240.0 562.4L1243.6 566.0L1244.0 571.0L1241.0 578.0L1239.6 584.0L1235.0 590.4L1233.0 597.0L1227.6 599.0L1225.0 607.0L1219.6 611.0L1218.0 617.0L1215.0 619.0L1213.6 625.0L1210.0 629.0L1208.0 637.0L1204.4 645.0L1202.4 653.0L1200.0 658.0L1196.4 663.0L1196.0 668.0L1194.0 670.0L1190.0 666.0L1183.0 663.0L1175.0 661.6L1169.0 662.0L1165.0 658.0L1160.0 656.0L1154.0 656.4L1150.0 660.0M446.0 1040.0L454.0 1034.0L464.0 1028.0L476.0 1022.0L488.0 1016.0L495.0 1010.0L502.0 1007.0L509.0 1005.0L516.0 1001.6L532.0 997.6L535.0 998.0L540.0 995.6L550.0 992.4L559.0 988.0L564.0 984.4L562.0 985.6L556.0 984.4L552.0 981.0L547.0 980.0L543.0 977.0L541.0 973.0M541.0 973.0L542.4 977.6L547.0 981.0L552.0 982.4L557.0 986.4L563.0 985.0M564.0 984.4L568.0 978.0L569.6 971.0L573.0 968.0L580.0 966.0M456.0 1024.0L459.0 1020.0L461.0 1014.0L465.0 1007.0L469.0 1003.0L473.0 1001.0L478.0 998.0L484.0 993.6L490.0 993.6L494.4 995.0L494.4 1006.0L490.0 1008.0L484.0 1009.0L482.0 1011.0L486.0 1012.0L480.0 1015.0L477.0 1013.0L473.0 1017.0L469.0 1016.0L467.0 1020.0L463.0 1022.0L461.0 1025.0L457.0 1027.0ZM761.6 740.0L765.0 744.0L769.0 749.0L771.0 753.0L769.0 759.0L770.0 766.0L771.6 773.0L769.0 776.0L773.0 779.0L774.4 785.0L776.0 791.0L777.0 798.0L781.0 804.0L782.0 809.0L779.0 812.0L780.0 820.0L782.0 826.0L783.0 834.0L784.0 842.0L785.0 849.0M580.0 966.0L585.0 962.4L590.0 959.0L588.0 955.0L591.0 952.0L594.4 949.6L592.0 955.0L589.0 950.0L595.0 942.0L602.0 937.0L608.0 933.0L614.4 928.0L610.0 929.0L607.0 926.0L610.0 923.0L605.0 921.0L601.6 921.0L607.0 920.0L608.0 918.0L605.0 910.0L601.0 900.0L598.0 892.0L598.4 884.0L602.0 876.0L608.0 869.0L616.0 863.0L626.0 858.0L634.0 856.4L644.0 854.0L656.0 850.4L667.0 849.0L676.0 845.0L685.0 839.0L691.0 833.0L694.0 828.0L696.0 821.0L702.0 819.0L706.0 814.0L707.0 808.0L703.0 805.0L698.0 803.0L693.0 799.6L689.6 794.0L687.6 788.0L686.0 786.4L689.0 789.0L692.0 797.0L697.0 801.0L705.0 804.4L710.0 807.0L711.6 814.0L708.0 819.0L705.6 824.0L707.0 830.0L708.0 836.0L710.0 842.0L709.0 849.0L712.0 855.0L716.0 857.0L718.0 852.0L717.0 844.0L716.0 838.0L720.0 844.0L722.4 852.0L724.0 845.0L729.0 845.0L730.0 852.0L734.0 854.0L735.0 858.0L738.0 859.0L740.0 855.0L738.0 848.0L739.0 841.0L735.0 836.0L733.0 828.0L735.0 825.0L736.0 832.0L738.0 838.0L742.0 841.0L743.0 832.0L745.0 824.0L746.0 816.0L745.0 809.0L748.0 804.0L750.0 806.0L747.6 812.0L749.0 820.0L747.0 828.0L745.6 835.0L748.0 840.0L750.0 830.0L752.0 820.0L751.0 813.0L754.0 810.0L756.4 812.0L754.0 817.0L755.6 822.0L752.4 826.0L751.6 836.0L751.0 846.0L752.0 854.0L756.0 857.0L759.0 854.0L757.6 850.0L762.0 848.0L764.0 841.0L766.0 848.0L769.0 852.0L775.0 853.0L779.0 851.0L782.0 848.0L784.0 849.0L780.0 840.0L778.0 830.0L773.0 828.0L768.0 824.0L769.0 821.6L775.0 826.0L780.0 825.0L781.0 834.0L783.0 840.0L786.0 844.0L785.0 838.0L790.0 836.0L792.0 842.0L793.0 849.0L797.0 849.0L800.0 844.0L799.0 838.0L801.0 833.0L805.0 828.0L806.0 824.0L807.0 831.0L805.0 838.0L806.0 843.0L810.0 843.6L813.0 838.0L815.0 831.0L818.0 824.0L816.0 817.0L814.0 808.0L813.0 798.0L815.6 797.0L817.0 806.0L819.0 813.0L821.0 806.0L823.0 798.0L826.0 793.6L825.0 800.0L823.0 806.0L824.4 814.0L821.0 820.0L822.0 828.0L820.0 835.0L821.0 842.0L825.0 844.4L828.0 839.0L832.0 836.0L829.0 833.0L828.0 828.0L831.0 831.0L835.0 834.0L841.0 833.0L846.0 829.0L848.0 822.0L846.0 816.0L842.4 815.6L847.0 814.0L846.0 806.0L845.0 800.0L849.0 792.0L847.0 788.0L853.0 784.4L858.0 781.0L853.0 788.0L850.0 794.0L849.0 802.0L850.0 810.0L851.0 818.0L855.0 822.4L858.0 818.0L856.0 814.0L860.0 816.0L862.0 810.0L868.0 809.0L875.0 810.0L877.0 805.0L874.0 813.0L868.0 815.0L865.0 819.0L862.0 822.0L868.0 826.0L864.0 828.0L860.0 826.0L860.0 832.0L865.0 836.0L872.0 837.0L880.0 834.0M696.4 849.6L699.0 840.0L701.0 831.0L700.0 827.0L703.0 825.6L705.6 829.0L703.6 835.0L705.6 844.0L703.6 851.0L700.0 851.6ZM920.7 753.3L924.0 760.0L928.0 765.3L932.7 770.7L937.3 773.3L941.3 772.7L940.0 768.0L939.3 765.3L942.0 766.7L943.3 772.0L946.7 777.3L952.0 778.0L956.0 776.0L959.3 772.0L960.7 767.3L958.0 765.3L954.7 764.7L952.7 762.7L956.0 762.4L961.3 763.3L965.3 761.3L970.7 758.0L974.7 754.7L976.0 758.7L977.3 752.7L978.7 746.7M976.0 758.7L980.7 762.0L985.3 766.7L990.7 772.7L994.7 778.0L998.0 782.7L1000.7 788.0L1002.0 793.3L1003.3 798.0L1006.0 795.3L1010.7 792.7L1012.7 788.7L1014.0 786.0M1003.3 798.0L1004.7 801.3L1007.3 802.0L1006.0 805.3L1006.7 809.3L1010.0 809.3L1009.3 813.3L1010.7 817.3L1012.0 822.7L1013.3 826.7L1014.7 831.3L1012.7 833.3L1010.7 828.0L1008.7 827.3L1007.3 831.3L1008.0 837.3L1007.3 842.7L1009.3 844.7L1011.3 841.3L1013.3 836.0L1016.7 834.7L1015.3 838.7L1020.0 838.7L1018.0 842.0L1020.7 845.3L1024.0 844.7L1024.7 849.3L1022.0 854.7L1020.7 858.7L1022.7 862.7L1018.7 862.0L1016.7 860.0L1014.7 863.3L1011.3 864.0L1009.3 860.0L1010.7 854.7L1010.0 849.3L1008.7 845.3M1014.7 863.3L1016.7 865.3L1020.0 870.7L1023.3 876.0L1026.0 881.3L1026.0 886.7L1028.7 892.0L1032.0 897.3L1034.0 900.0M1060.0 873.3L1054.7 872.0L1052.0 868.0L1049.3 865.3L1045.3 867.3L1041.3 868.7L1038.7 873.3L1036.0 878.7L1036.7 885.3L1037.3 890.7L1040.7 895.3L1044.0 900.0M984.0 740.0L986.0 741.3L988.0 743.3L990.0 740.7L990.9 740.0M974.0 776.0L977.3 772.7L980.7 774.7L983.3 779.3L985.3 784.0L984.7 788.0L980.7 788.7L976.7 785.3L974.7 780.7ZM945.3 788.7L949.3 788.7L953.3 792.0L954.9 798.7L953.3 805.3L948.7 810.7L943.3 814.0L940.0 813.3L940.7 810.0L944.7 805.3L946.7 798.7L946.4 793.3ZM948.7 781.6L952.0 779.7L955.7 780.0L954.0 782.4L950.7 783.3ZM936.0 792.0L938.7 791.3L939.3 798.7L938.0 803.3L936.0 806.7L933.3 811.3L932.7 806.7L934.7 800.0ZM902.7 764.0L903.3 769.3L907.3 774.7L911.3 780.0L913.3 788.0L912.7 796.0L909.3 804.0L905.3 806.7L900.0 806.7L897.3 810.7L893.3 813.3L889.3 813.3M910.7 756.0L913.3 762.7L917.3 769.3L919.3 776.0L924.0 781.3L927.3 785.3L926.7 793.3L926.0 804.0L922.7 810.7L918.7 814.7L915.3 816.0L912.7 820.0L910.7 821.3L909.3 817.3L911.3 812.7L908.7 810.7L906.0 813.3L905.3 817.3L901.3 818.7L898.7 816.0L901.3 812.0L905.3 810.7M892.7 780.7L894.0 775.3L898.0 773.1L902.0 774.7L905.3 780.0L907.3 786.7L909.3 792.0L907.3 798.7L904.7 804.0L900.0 808.0L894.0 810.7L890.0 812.0L888.7 808.7L891.3 805.3L890.7 801.3L890.0 798.0M860.0 808.0L865.3 814.7L870.0 810.7L874.7 809.3L876.7 805.3M860.0 821.3L864.7 822.7L866.7 828.0L864.0 832.0L860.0 831.3M860.0 833.3L865.3 836.0L872.0 837.3L877.3 834.0L881.3 830.7L883.3 824.0L886.7 817.3L890.0 814.7M882.7 833.3L884.7 824.0L887.3 818.0L890.0 820.0L888.0 826.7L885.3 832.0ZM890.0 820.7L894.0 823.3L895.3 826.7L891.3 828.7M898.7 832.0L901.3 825.3L906.0 823.3L906.7 827.3L902.7 830.0ZM1050.9 740.0L1051.3 744.0L1054.7 749.3L1056.7 756.0L1060.7 762.7L1062.7 768.0L1062.7 773.3L1064.7 784.0L1066.7 794.7L1068.7 805.3L1068.0 808.7L1065.3 810.0L1066.7 814.7L1068.7 821.3L1070.0 828.0L1069.3 834.7L1068.3 844.0L1068.7 853.3L1070.7 864.0L1072.7 872.0L1074.7 880.0M1137.3 697.3L1137.1 708.0L1136.0 712.0L1134.9 717.3L1134.4 725.3L1132.7 730.7L1129.3 736.0L1125.3 738.4L1121.3 736.7L1118.0 734.0L1114.9 736.7L1115.3 741.3L1118.0 745.3L1118.0 749.3L1113.3 754.7L1109.6 758.0L1109.1 763.3L1110.7 768.0L1112.7 772.0L1112.0 777.3L1114.0 782.7L1117.3 786.7L1118.4 793.3L1118.0 800.7L1113.3 802.7L1115.3 806.0L1112.0 804.7L1108.0 804.0L1105.3 806.7L1105.3 811.3L1102.7 814.0L1100.0 819.3L1102.0 822.0L1098.7 821.3L1096.7 819.3L1095.3 824.0L1092.7 824.0L1092.0 820.0L1089.3 816.7L1085.3 813.3L1081.3 810.0L1077.3 808.7L1076.7 812.0L1076.0 818.7L1072.7 820.0L1068.7 821.3M1060.0 873.3L1064.0 873.3L1066.0 876.0L1067.3 880.0M1067.3 880.0L1069.3 882.0L1073.3 880.0M1037.3 873.3L1036.0 881.3L1036.7 888.7L1040.0 896.0L1042.7 899.3L1043.3 905.3L1046.0 912.0L1048.0 918.7L1048.7 924.0L1046.7 922.7L1043.3 916.0L1040.0 909.3L1038.7 904.0L1034.7 900.0L1029.3 894.7L1025.3 888.7L1024.7 881.3L1022.7 873.3L1020.0 868.0M1037.3 873.3L1040.0 869.3L1044.7 867.3L1048.7 865.3L1052.0 868.0L1052.7 872.0L1060.0 873.3L1064.0 873.3L1066.0 876.0L1067.3 880.0M1048.7 924.0L1052.0 926.7L1056.0 929.3L1060.0 932.7L1064.0 936.7L1066.0 941.3L1070.7 945.3L1074.7 949.3L1077.3 954.7L1080.0 960.0L1082.0 964.0L1082.7 958.7L1082.0 953.3L1082.7 948.0L1080.7 942.7L1079.3 937.3L1076.0 932.0L1073.3 928.0L1077.3 931.3L1080.7 937.3L1084.0 942.7L1084.0 948.0L1088.0 944.0L1090.7 950.7L1094.7 956.0L1098.7 958.7L1092.0 961.3L1088.0 964.0L1084.0 968.0L1088.0 972.0L1092.7 974.7L1096.0 970.7L1098.7 965.3L1102.7 960.0L1105.3 954.7L1104.0 950.7L1107.3 946.7L1108.0 942.7L1110.0 940.0L1108.7 945.3L1110.7 950.7L1108.0 954.7L1105.3 956.0L1106.7 961.3L1103.3 966.7L1104.7 970.7L1109.3 968.0L1113.3 966.7L1112.0 970.0L1107.3 972.7L1102.7 974.0L1100.7 976.0M1098.7 979.3L1102.0 985.3L1104.7 992.0L1105.3 999.3L1102.0 992.0L1099.3 985.3L1096.7 978.7ZM1113.3 978.7L1112.0 985.3L1113.3 992.0L1116.7 1000.7L1115.3 993.3L1114.7 986.7L1116.0 980.7L1119.3 988.0L1122.0 999.3M1113.3 978.0L1121.3 979.3L1128.0 980.0L1132.7 977.3L1134.7 981.3L1138.0 988.0L1142.0 993.3L1145.3 991.3L1143.3 986.7L1151.3 988.0L1156.0 992.0L1163.3 990.7L1161.3 993.3L1154.7 996.0L1150.7 998.7L1156.0 1001.3L1153.3 1008.0L1158.7 1005.3L1162.7 1004.0L1166.7 1006.7L1170.7 1007.3L1170.0 1012.0L1166.0 1012.7L1162.7 1010.7L1166.7 1016.0L1172.0 1021.3L1177.3 1026.7L1183.3 1029.3L1184.7 1033.3L1182.0 1038.7L1177.3 1044.0L1170.7 1046.7L1165.3 1045.3L1161.3 1041.3L1157.3 1037.3L1154.0 1034.7L1150.0 1032.0L1145.3 1032.0L1142.7 1036.0L1144.0 1042.7L1148.0 1048.0L1151.3 1054.7L1153.3 1060.0M1156.7 1025.3L1161.3 1022.0L1166.7 1024.7L1172.0 1028.7L1176.0 1032.0L1173.3 1036.0L1168.0 1037.3L1164.0 1033.3L1158.7 1030.7ZM1142.0 993.3L1144.7 998.7L1145.3 1004.7L1142.7 1003.3L1140.0 997.3L1137.3 990.0ZM1190.7 1036.0L1188.7 1042.7L1189.3 1050.7L1186.7 1054.7L1182.0 1053.3L1180.0 1057.3L1181.3 1060.0M1188.0 1040.0L1189.3 1048.0L1188.0 1053.3L1190.7 1060.0L1193.3 1060.7L1189.3 1062.7L1188.0 1068.0L1188.7 1073.3L1190.7 1078.7L1194.7 1081.3L1197.3 1078.0L1198.0 1081.3L1200.0 1085.3L1203.3 1088.0L1208.0 1088.7L1202.7 1089.3L1198.0 1089.3L1202.0 1091.3L1205.3 1097.3L1206.7 1102.7L1206.0 1105.3L1209.3 1110.7L1213.3 1116.0L1217.3 1120.0L1219.3 1123.3L1216.0 1124.7L1212.7 1124.7L1212.0 1127.3L1216.0 1128.7L1220.0 1129.3L1222.0 1134.7L1224.0 1141.3L1225.3 1146.7L1222.0 1149.3L1223.3 1154.7L1226.0 1161.3L1228.7 1168.0L1232.0 1174.7L1234.7 1182.7L1236.0 1186.7L1233.3 1184.0L1232.0 1186.7L1232.7 1193.3L1234.0 1200.0L1234.0 1206.7L1231.3 1205.3L1228.7 1209.3L1228.0 1214.7L1224.0 1216.7L1223.3 1218.7L1226.7 1217.3L1224.7 1222.7L1223.3 1229.3L1222.0 1236.0L1220.0 1240.0M1144.0 1040.0L1148.0 1045.3L1153.3 1052.0L1157.3 1058.7L1158.7 1064.0L1164.0 1068.7L1170.7 1072.7L1176.0 1076.0L1180.0 1078.7L1182.7 1074.7L1184.0 1066.7L1182.7 1060.0L1180.0 1054.7L1178.7 1050.7L1181.3 1053.3L1185.3 1052.7L1187.3 1048.0L1188.0 1040.0M1143.3 1077.3L1152.7 1076.0L1154.7 1074.0L1157.3 1076.7L1164.0 1078.7L1165.6 1085.3L1164.7 1091.3L1160.0 1094.0L1155.3 1092.7L1151.3 1088.0L1146.7 1082.7ZM1156.0 1040.0L1161.3 1042.7L1168.0 1044.0L1174.7 1042.7L1180.0 1040.0M1165.3 1044.0L1170.7 1048.0L1177.3 1045.3L1181.3 1040.0M460.0 1030.0L454.0 1035.0L446.0 1040.0L438.0 1047.0L432.0 1054.0L429.0 1058.0L427.0 1063.0L423.0 1069.0L418.0 1073.0L414.0 1079.0L410.0 1086.0L405.0 1092.0L400.0 1097.0L395.0 1102.0L392.0 1105.6L386.0 1107.0L388.0 1109.0L382.0 1114.0L377.0 1119.0L374.0 1125.0L368.0 1128.0L360.0 1131.0L350.0 1135.0L340.0 1140.0L333.0 1145.0L329.0 1150.0L323.0 1156.0L319.0 1161.0L317.0 1167.0L312.0 1173.0L308.0 1177.0L303.0 1179.0L303.6 1182.0L299.0 1184.0L290.4 1188.0L286.0 1189.0M424.0 1057.0L426.4 1055.0L428.4 1057.6L426.0 1060.0ZM1234.7 1200.0L1233.3 1205.3L1230.7 1204.0L1228.7 1210.0L1225.3 1216.0L1223.3 1217.3L1226.7 1218.7L1224.7 1224.0L1224.0 1230.7L1220.7 1237.3L1217.3 1238.7L1218.7 1244.0L1217.3 1250.7L1216.0 1257.3L1214.0 1262.7L1212.0 1265.3L1214.0 1266.7L1210.7 1268.7L1208.0 1269.3L1207.3 1276.0L1206.0 1282.7L1205.3 1290.7L1204.0 1298.7L1203.3 1306.7L1204.7 1312.0L1207.3 1315.3L1212.0 1314.0L1215.3 1310.7L1220.0 1308.7L1224.7 1304.0L1228.0 1296.0L1227.3 1290.0L1232.0 1292.0L1235.3 1288.0L1237.3 1285.3L1240.7 1280.0L1241.3 1270.7L1245.3 1270.0L1245.3 1278.7L1246.0 1284.0L1242.7 1285.3L1240.0 1293.3L1238.0 1301.3L1236.0 1309.3L1233.3 1314.7L1232.0 1318.7L1236.0 1320.0L1238.7 1314.7L1242.7 1306.7L1246.7 1302.7L1250.7 1300.0L1246.7 1305.3L1244.0 1310.7L1242.7 1316.0L1241.3 1320.0L1244.0 1324.0L1246.7 1325.3L1249.3 1322.7L1252.0 1318.7L1254.7 1313.3L1258.7 1308.0L1256.0 1302.7L1257.3 1298.7L1262.7 1295.3L1266.7 1292.7L1263.3 1297.3L1259.3 1301.3L1260.7 1306.7L1260.0 1312.0L1256.0 1317.3L1253.3 1322.7L1250.7 1326.7L1248.0 1329.3L1253.3 1330.0L1257.3 1328.0L1260.0 1331.3L1265.3 1332.7L1268.0 1328.0L1272.0 1325.3L1273.3 1317.3L1274.7 1310.7L1276.0 1305.3L1280.0 1301.3L1285.3 1303.3L1281.3 1305.3L1278.7 1309.3L1278.0 1314.7L1278.7 1321.3L1278.7 1328.0L1281.3 1331.3L1284.7 1329.3L1286.7 1324.0L1289.3 1317.3L1293.3 1312.0L1296.0 1305.3L1297.3 1301.3L1298.0 1309.3L1296.0 1316.0L1292.7 1320.0L1291.3 1325.3L1290.7 1330.7L1292.7 1334.7L1297.3 1336.7L1301.3 1336.0L1306.7 1332.0L1312.0 1328.0L1317.3 1322.7L1321.3 1317.3L1324.7 1312.0L1325.3 1306.7L1328.0 1302.7L1326.7 1298.7L1329.3 1297.3L1333.3 1298.0L1337.3 1295.3L1340.0 1293.3M1218.0 1313.3L1220.0 1317.3L1223.3 1320.0L1220.0 1325.3L1218.0 1326.0L1216.7 1320.0L1215.3 1316.0M1239.3 1270.7L1246.7 1270.0M1233.3 1286.7L1236.0 1292.0L1238.0 1286.7M1430.4 1204.0L1428.0 1202.8L1424.4 1201.6L1420.8 1199.8L1416.6 1198.6L1419.6 1197.4L1421.4 1193.8L1422.6 1196.8L1422.0 1199.8L1423.2 1204.0L1422.6 1207.6L1420.2 1211.2L1419.6 1216.0L1422.0 1220.8L1424.4 1225.6L1425.0 1230.4L1423.2 1234.0L1420.8 1235.8L1416.0 1238.8L1419.6 1238.2L1418.4 1241.2L1417.2 1244.8L1416.0 1248.4L1413.6 1252.0L1410.0 1255.6L1406.4 1259.2L1402.8 1265.2L1398.0 1269.4L1392.0 1272.4L1386.0 1273.6L1380.0 1271.8L1375.2 1268.8L1371.6 1265.2L1369.2 1260.4L1367.4 1255.6L1365.6 1250.8L1368.0 1248.4L1372.2 1246.6L1368.6 1247.8L1366.8 1249.6L1367.4 1254.4L1368.6 1259.2L1369.8 1264.0L1372.2 1268.8L1375.2 1273.6L1377.0 1277.2L1372.8 1282.0L1365.6 1284.4L1358.4 1286.8L1354.8 1283.8L1351.2 1282.0L1355.4 1284.4L1354.8 1288.0L1351.2 1290.4L1348.8 1292.8L1344.0 1293.4L1341.6 1295.8L1338.0 1295.2L1334.4 1298.8L1332.0 1300.0M1327.2 1295.2L1328.4 1300.0M1260.0 1296.4L1264.8 1295.2L1267.2 1292.8M877.3 700.7L883.3 702.7L892.0 705.3L899.3 706.7L902.7 705.3L904.7 701.3L904.3 697.3L905.3 694.0L904.7 691.3L906.0 689.3L909.3 690.0L907.3 691.0L905.7 692.3M877.3 701.0L883.3 704.7L889.3 708.0L892.7 711.3L896.7 712.7L901.3 713.3L904.0 714.7L906.3 718.0L907.0 721.3L907.3 725.3L906.3 729.3L903.3 730.7L902.0 732.7L899.3 732.0L895.3 732.7L894.0 734.0L894.3 737.3L896.0 740.0L898.0 743.3L900.0 746.7L898.7 748.0L896.0 748.7L894.7 751.3L893.3 754.7L890.7 756.7L888.0 758.7L890.7 759.3L893.3 758.0L895.3 754.0L896.0 750.0L899.3 748.7L903.3 748.0L907.3 748.7L910.7 751.3L913.0 754.0L909.3 753.3L906.0 754.0L903.3 756.0L900.7 758.0L899.7 762.0L897.3 760.0L896.7 763.3L898.0 768.0L899.3 772.0L900.0 776.0L899.3 780.0M892.7 708.7L896.7 708.0L901.3 710.0L904.0 712.7L901.3 713.0L896.7 711.3ZM896.0 691.0L898.7 692.7L903.3 692.3L906.3 693.0L907.3 696.0L910.0 696.7L912.7 698.0L915.3 698.0L916.0 694.7L914.0 693.3L912.0 694.0L912.7 696.7M905.3 699.3L906.3 705.3L907.3 709.3L910.0 712.0L911.7 712.7L911.3 715.3L911.7 718.7L910.3 722.7L909.7 728.0L909.3 733.3L910.7 736.7L913.3 740.0L916.0 742.7L917.3 746.7L918.7 750.7L920.0 754.7L922.0 758.7L924.7 762.0L926.7 764.3L929.3 764.7L931.3 767.3L933.3 770.7L936.0 773.0L939.3 772.7L941.7 771.3L942.3 768.7L940.7 766.0L940.0 765.0L942.0 766.3L943.3 769.3L944.7 772.7L947.3 775.3L950.0 776.7L954.0 776.0L958.0 773.3L960.7 770.0L961.3 767.3L958.7 766.0L954.7 765.0L952.7 764.7L954.7 762.7L956.7 761.7L960.0 762.7L963.3 761.7L966.0 759.3L968.0 758.7L970.0 757.7M896.7 740.0L899.3 737.3L903.3 735.7L906.0 736.7L908.0 739.3L910.7 742.0L912.0 745.0L909.3 745.7L907.3 744.0L906.0 741.3L903.3 742.0L900.0 742.3ZM907.3 721.3L908.3 725.3L908.0 730.7L908.7 734.7M900.7 758.0L903.3 755.3L906.0 754.7L909.3 755.3L911.3 759.3L912.7 764.0L915.3 768.0L918.0 770.7L919.3 774.7L922.0 780.0M903.3 758.0L902.7 762.7L902.0 767.3L904.0 771.3L907.3 773.3L910.0 776.0L911.3 780.0M893.3 780.0L894.0 775.3L896.0 772.7L899.3 773.3L902.0 776.0L903.3 780.0"/>
</g>
</g>
<rect x="289.5" y="166.5" width="1140.0" height="1225.8" fill="none" stroke="#000" stroke-width="3.3"/>
<rect x="1510.4" y="224.30" width="61.1" height="130.34" fill="#d53e4f"/>
<rect x="1510.4" y="354.04" width="61.1" height="130.34" fill="#fa9b58"/>
<rect x="1510.4" y="483.79" width="61.1" height="130.34" fill="#fee18d"/>
<rect x="1510.4" y="613.53" width="61.1" height="130.34" fill="#f5fbaf"/>
<rect x="1510.4" y="743.28" width="61.1" height="130.34" fill="#bae3a1"/>
<rect x="1510.4" y="873.02" width="61.1" height="130.34" fill="#60bba8"/>
<rect x="1510.4" y="1002.77" width="61.1" height="130.34" fill="#3880b9"/>
<rect x="1510.4" y="1132.51" width="61.1" height="130.34" fill="#5061aa"/>
<rect x="1510.4" y="1262.26" width="61.1" height="130.34" fill="#5c51a3"/>
<path d="M1510.4 224.9L1541.0 166.5L1571.5 224.9Z" fill="#9e0142"/>
<path d="M1510.4 1392.3V224.6L1541.0 166.5L1571.5 224.6V1392.3Z" fill="none" stroke="#000" stroke-width="3.3" stroke-linejoin="miter"/>
<path d="M1573.1 224.60h14.6M1573.1 354.34h14.6M1573.1 484.09h14.6M1573.1 613.83h14.6M1573.1 743.58h14.6M1573.1 873.32h14.6M1573.1 1003.07h14.6M1573.1 1132.81h14.6M1573.1 1262.56h14.6M1573.1 1392.30h14.6" stroke="#000" stroke-width="3.3" fill="none"/>
</svg>
<div class="t title" style="top:41px">rf(mm) 20250928_12 to 20250928_15</div>
<div class="t title" style="top:99.5px;left:-25.3px">Simulation Time: 20250926_12</div>
<div class="t lab yl" style="top:307.2px">28°N</div>
<div class="t lab yl" style="top:471.2px">26°N</div>
<div class="t lab yl" style="top:635.2px">24°N</div>
<div class="t lab yl" style="top:799.2px">22°N</div>
<div class="t lab yl" style="top:963.2px">20°N</div>
<div class="t lab yl" style="top:1127.2px">18°N</div>
<div class="t lab yl" style="top:1291.2px">16°N</div>
<div class="t lab xl" style="left:295.9px;top:1412.6px">84°E</div>
<div class="t lab xl" style="left:459.9px;top:1412.6px">86°E</div>
<div class="t lab xl" style="left:623.8px;top:1412.6px">88°E</div>
<div class="t lab xl" style="left:787.8px;top:1412.6px">90°E</div>
<div class="t lab xl" style="left:951.8px;top:1412.6px">92°E</div>
<div class="t lab xl" style="left:1115.8px;top:1412.6px">94°E</div>
<div class="t lab xl" style="left:1279.7px;top:1412.6px">96°E</div>
<div class="t lab cl" style="top:206.8px">150</div>
<div class="t lab cl" style="top:336.5px">120</div>
<div class="t lab cl" style="top:466.3px">100</div>
<div class="t lab cl" style="top:596.0px">80</div>
<div class="t lab cl" style="top:725.8px">60</div>
<div class="t lab cl" style="top:855.5px">40</div>
<div class="t lab cl" style="top:985.3px">20</div>
<div class="t lab cl" style="top:1115.0px">10</div>
<div class="t lab cl" style="top:1244.8px">5</div>
<div class="t lab cl" style="top:1374.5px">2</div>
</body></html>
